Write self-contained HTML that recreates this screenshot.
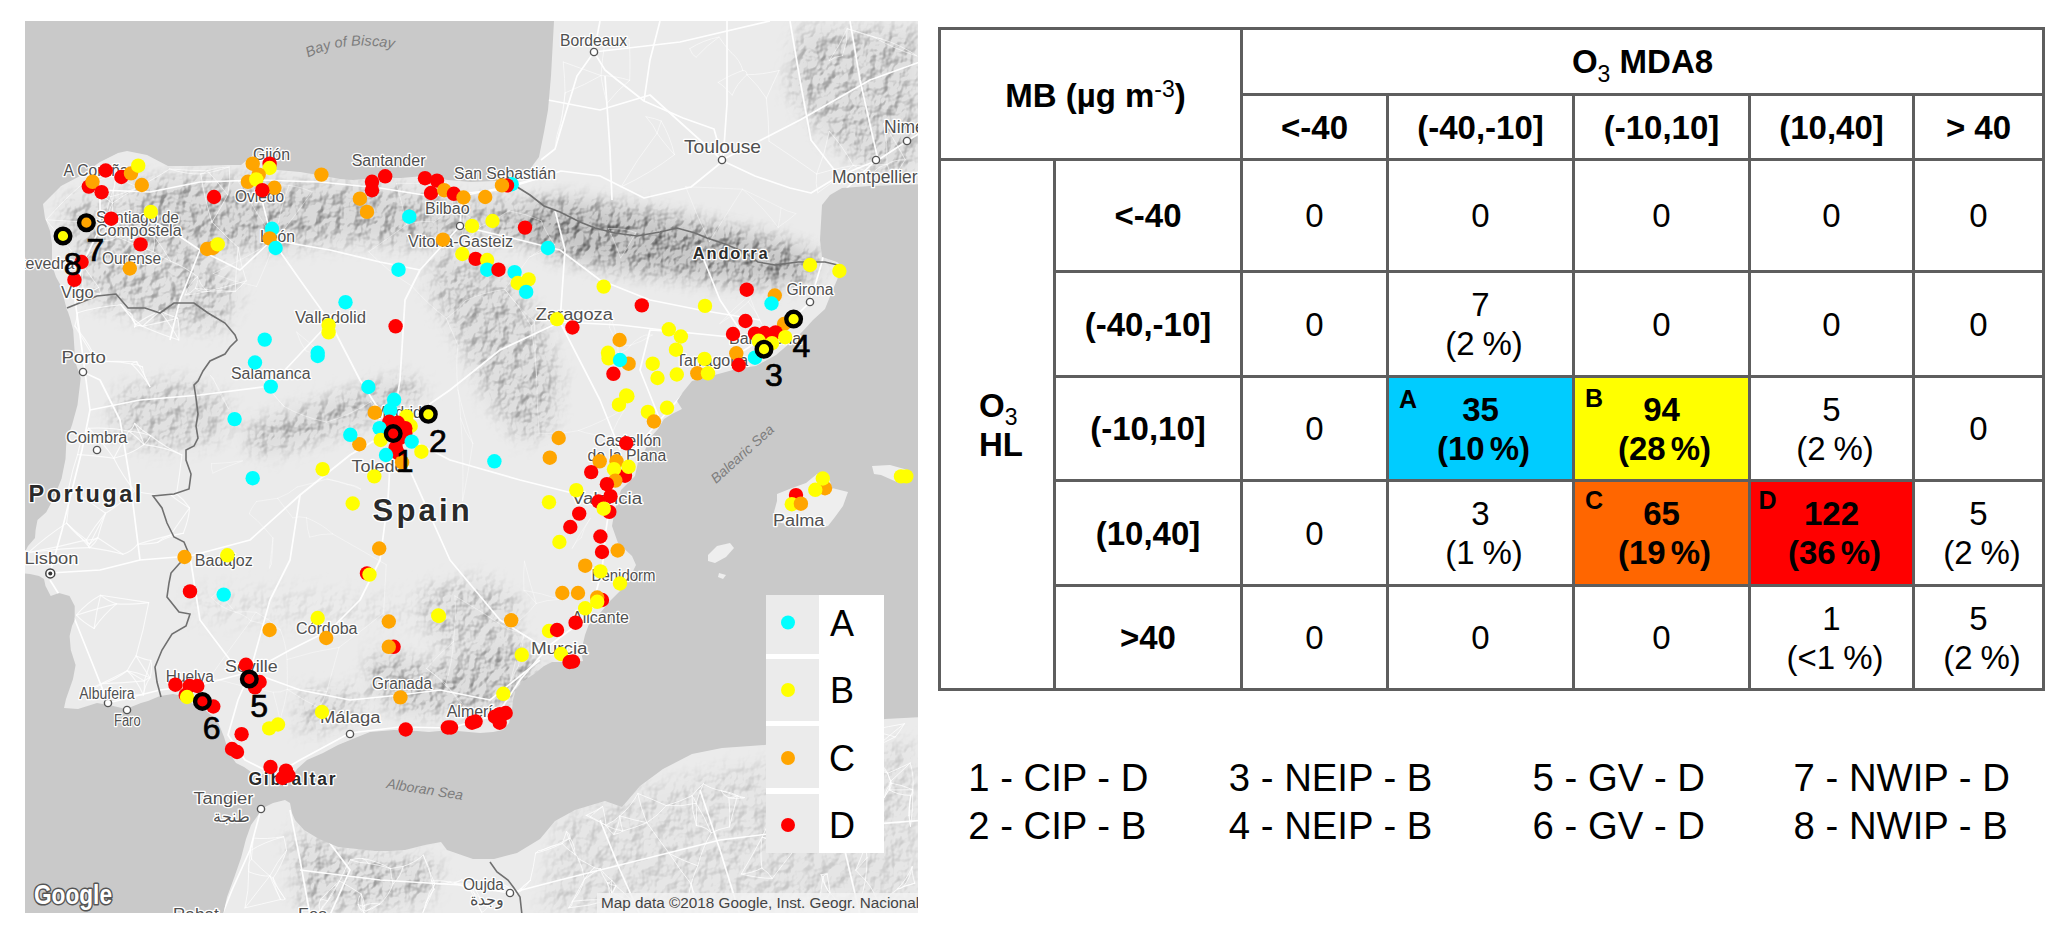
<!DOCTYPE html>
<html><head><meta charset="utf-8"><title>Figure</title>
<style>
html,body{margin:0;padding:0;background:#fff;}
body{width:2067px;height:934px;position:relative;overflow:hidden;font-family:"Liberation Sans",sans-serif;color:#000;}
.l{position:absolute;background:#5e5e5e;}
.c{position:absolute;display:flex;align-items:center;justify-content:center;text-align:center;font-size:33px;line-height:39px;}
.b{font-weight:bold;}
.c sup{font-size:23px;font-weight:normal;vertical-align:0;position:relative;top:-9.5px;line-height:0;}
.c sub{font-size:23px;font-weight:normal;vertical-align:0;position:relative;top:9px;line-height:0;}
.lt{position:absolute;font-weight:bold;font-size:25px;line-height:25px;}
.lg{position:absolute;font-size:38.3px;line-height:48px;white-space:pre;}
#map{position:absolute;left:25px;top:21px;width:893px;height:892px;overflow:hidden;}
</style></head><body>

<svg id="map" width="893" height="892" viewBox="25 21 893 892" font-family="Liberation Sans, sans-serif">
<defs>
<filter id="bl10" filterUnits="userSpaceOnUse" x="0" y="0" width="1000" height="1000"><feGaussianBlur stdDeviation="10"/></filter>
<filter id="bl4" filterUnits="userSpaceOnUse" x="0" y="0" width="1000" height="1000"><feGaussianBlur stdDeviation="4"/></filter>
<clipPath id="landclip"><path d="M555.0,15.0 L925.0,15.0 L925.0,184.0 L870.0,186.0 L842.0,188.0 L830.0,195.0 L822.0,205.0 L820.0,240.0 L822.0,257.0 L837.0,262.0 L842.0,266.0 L837.0,280.0 L831.0,294.0 L825.0,309.0 L813.0,320.0 L802.0,332.0 L790.0,343.0 L776.0,355.0 L756.0,366.0 L740.0,368.0 L722.0,373.0 L703.0,378.0 L692.0,381.0 L683.0,392.0 L677.0,401.0 L682.0,409.0 L672.0,414.0 L664.0,419.0 L658.0,429.0 L651.0,437.0 L645.0,450.0 L638.0,462.0 L635.0,476.0 L621.0,490.0 L615.0,509.0 L612.0,526.0 L618.0,543.0 L632.0,556.0 L636.0,565.0 L629.0,579.0 L621.0,590.0 L610.0,601.0 L601.0,612.0 L593.0,622.0 L589.0,624.0 L585.0,635.0 L581.0,652.0 L583.0,661.0 L577.0,662.0 L562.0,662.0 L552.0,662.0 L544.0,666.0 L534.0,674.0 L522.0,682.0 L516.0,689.0 L513.0,700.0 L512.0,710.0 L509.0,723.0 L503.0,730.0 L493.0,732.0 L480.0,733.0 L458.0,731.0 L450.0,730.0 L429.0,732.0 L417.0,731.0 L394.0,730.0 L370.0,732.0 L355.0,738.0 L338.0,745.0 L323.0,753.0 L307.0,760.0 L297.0,769.0 L290.0,781.0 L285.0,784.0 L273.0,774.0 L254.0,774.0 L244.0,767.0 L236.0,763.0 L229.0,753.0 L224.0,737.0 L218.0,722.0 L211.0,715.0 L204.0,709.0 L193.0,704.0 L183.0,696.0 L173.0,694.0 L160.0,696.0 L148.0,701.0 L141.0,703.0 L126.0,709.0 L109.0,705.0 L97.0,703.0 L78.0,709.0 L64.0,708.0 L66.0,699.0 L73.0,679.0 L75.6,665.0 L70.8,650.0 L69.6,636.0 L72.0,626.0 L74.7,620.0 L74.7,606.0 L69.5,596.0 L59.0,593.0 L50.7,596.0 L45.5,586.0 L44.0,579.0 L39.0,576.0 L30.0,574.0 L18.0,573.0 L18.0,550.0 L26.0,550.0 L28.0,546.0 L35.0,538.0 L35.6,530.0 L37.5,520.0 L46.2,512.3 L53.9,497.8 L61.6,478.5 L65.5,459.0 L66.4,440.0 L72.0,425.0 L77.5,405.0 L80.7,378.0 L75.3,362.0 L73.2,330.0 L70.0,318.0 L68.0,312.0 L67.0,310.0 L63.0,295.0 L61.0,286.0 L56.0,277.0 L52.0,265.0 L52.0,253.0 L52.0,244.0 L50.0,231.0 L45.0,218.0 L43.0,204.0 L52.0,195.0 L61.0,186.0 L80.0,176.0 L100.0,162.0 L118.0,153.0 L127.0,151.0 L147.0,155.0 L168.0,166.0 L194.0,166.0 L230.0,165.0 L241.0,165.0 L253.0,155.0 L262.0,160.0 L277.0,170.0 L300.0,172.0 L324.0,176.0 L340.0,179.0 L353.0,180.0 L377.0,178.0 L401.0,178.0 L424.0,176.0 L448.0,180.0 L471.0,182.0 L495.0,181.0 L518.0,180.0 L530.0,170.0 L533.0,165.0 L539.0,157.0 L544.0,132.0 L548.0,110.0 L551.0,76.0 L554.0,21.0 Z"/><path d="M222.0,920.0 L227.0,897.0 L234.0,878.0 L241.0,858.0 L246.0,839.0 L251.0,825.0 L256.0,818.0 L263.0,808.0 L273.0,803.0 L285.0,800.0 L290.0,803.0 L292.0,813.0 L295.0,820.0 L304.0,830.0 L319.0,839.0 L338.0,847.0 L357.0,849.0 L375.0,851.0 L390.0,851.0 L405.0,850.0 L425.0,845.0 L441.0,842.0 L447.0,850.0 L473.0,859.0 L494.0,859.0 L517.0,853.0 L540.0,839.0 L555.0,821.0 L575.0,810.0 L605.0,801.0 L622.0,807.0 L640.0,786.0 L663.0,769.0 L692.0,754.0 L722.0,748.0 L765.0,745.0 L800.0,735.0 L885.0,719.0 L925.0,717.0 L925.0,920.0 Z"/></clipPath>
</defs>
<rect x="25" y="21" width="893" height="892" fill="#c9c9c9"/>
<path d="M555.0,15.0 L925.0,15.0 L925.0,184.0 L870.0,186.0 L842.0,188.0 L830.0,195.0 L822.0,205.0 L820.0,240.0 L822.0,257.0 L837.0,262.0 L842.0,266.0 L837.0,280.0 L831.0,294.0 L825.0,309.0 L813.0,320.0 L802.0,332.0 L790.0,343.0 L776.0,355.0 L756.0,366.0 L740.0,368.0 L722.0,373.0 L703.0,378.0 L692.0,381.0 L683.0,392.0 L677.0,401.0 L682.0,409.0 L672.0,414.0 L664.0,419.0 L658.0,429.0 L651.0,437.0 L645.0,450.0 L638.0,462.0 L635.0,476.0 L621.0,490.0 L615.0,509.0 L612.0,526.0 L618.0,543.0 L632.0,556.0 L636.0,565.0 L629.0,579.0 L621.0,590.0 L610.0,601.0 L601.0,612.0 L593.0,622.0 L589.0,624.0 L585.0,635.0 L581.0,652.0 L583.0,661.0 L577.0,662.0 L562.0,662.0 L552.0,662.0 L544.0,666.0 L534.0,674.0 L522.0,682.0 L516.0,689.0 L513.0,700.0 L512.0,710.0 L509.0,723.0 L503.0,730.0 L493.0,732.0 L480.0,733.0 L458.0,731.0 L450.0,730.0 L429.0,732.0 L417.0,731.0 L394.0,730.0 L370.0,732.0 L355.0,738.0 L338.0,745.0 L323.0,753.0 L307.0,760.0 L297.0,769.0 L290.0,781.0 L285.0,784.0 L273.0,774.0 L254.0,774.0 L244.0,767.0 L236.0,763.0 L229.0,753.0 L224.0,737.0 L218.0,722.0 L211.0,715.0 L204.0,709.0 L193.0,704.0 L183.0,696.0 L173.0,694.0 L160.0,696.0 L148.0,701.0 L141.0,703.0 L126.0,709.0 L109.0,705.0 L97.0,703.0 L78.0,709.0 L64.0,708.0 L66.0,699.0 L73.0,679.0 L75.6,665.0 L70.8,650.0 L69.6,636.0 L72.0,626.0 L74.7,620.0 L74.7,606.0 L69.5,596.0 L59.0,593.0 L50.7,596.0 L45.5,586.0 L44.0,579.0 L39.0,576.0 L30.0,574.0 L18.0,573.0 L18.0,550.0 L26.0,550.0 L28.0,546.0 L35.0,538.0 L35.6,530.0 L37.5,520.0 L46.2,512.3 L53.9,497.8 L61.6,478.5 L65.5,459.0 L66.4,440.0 L72.0,425.0 L77.5,405.0 L80.7,378.0 L75.3,362.0 L73.2,330.0 L70.0,318.0 L68.0,312.0 L67.0,310.0 L63.0,295.0 L61.0,286.0 L56.0,277.0 L52.0,265.0 L52.0,253.0 L52.0,244.0 L50.0,231.0 L45.0,218.0 L43.0,204.0 L52.0,195.0 L61.0,186.0 L80.0,176.0 L100.0,162.0 L118.0,153.0 L127.0,151.0 L147.0,155.0 L168.0,166.0 L194.0,166.0 L230.0,165.0 L241.0,165.0 L253.0,155.0 L262.0,160.0 L277.0,170.0 L300.0,172.0 L324.0,176.0 L340.0,179.0 L353.0,180.0 L377.0,178.0 L401.0,178.0 L424.0,176.0 L448.0,180.0 L471.0,182.0 L495.0,181.0 L518.0,180.0 L530.0,170.0 L533.0,165.0 L539.0,157.0 L544.0,132.0 L548.0,110.0 L551.0,76.0 L554.0,21.0 Z" fill="#ebebeb"/>
<path d="M222.0,920.0 L227.0,897.0 L234.0,878.0 L241.0,858.0 L246.0,839.0 L251.0,825.0 L256.0,818.0 L263.0,808.0 L273.0,803.0 L285.0,800.0 L290.0,803.0 L292.0,813.0 L295.0,820.0 L304.0,830.0 L319.0,839.0 L338.0,847.0 L357.0,849.0 L375.0,851.0 L390.0,851.0 L405.0,850.0 L425.0,845.0 L441.0,842.0 L447.0,850.0 L473.0,859.0 L494.0,859.0 L517.0,853.0 L540.0,839.0 L555.0,821.0 L575.0,810.0 L605.0,801.0 L622.0,807.0 L640.0,786.0 L663.0,769.0 L692.0,754.0 L722.0,748.0 L765.0,745.0 L800.0,735.0 L885.0,719.0 L925.0,717.0 L925.0,920.0 Z" fill="#ebebeb"/>
<path d="M777.0,494.0 L792.0,488.0 L806.0,483.0 L817.0,474.0 L828.0,474.0 L832.0,488.0 L848.0,492.0 L843.0,506.0 L835.0,517.0 L828.0,526.0 L817.0,528.0 L799.0,526.0 L781.0,523.0 L774.0,512.0 L777.0,501.0 Z" fill="#eeeeee"/>
<path d="M872.0,466.0 L890.0,465.0 L908.0,470.0 L912.0,477.0 L899.0,483.0 L881.0,475.0 L874.0,474.0 Z" fill="#eeeeee"/>
<path d="M708.0,555.0 L717.0,546.0 L730.0,543.0 L734.0,548.0 L726.0,557.0 L715.0,563.0 L708.0,561.0 Z" fill="#eeeeee"/>
<path d="M719.0,573.0 L726.0,575.0 L723.0,579.0 L718.0,577.0 Z" fill="#eeeeee"/>
<defs>
<filter id="hill" filterUnits="userSpaceOnUse" x="25" y="21" width="893" height="892" color-interpolation-filters="sRGB">
<feTurbulence type="fractalNoise" baseFrequency="0.08 0.07" numOctaves="3" seed="11" result="t"/>
<feDiffuseLighting in="t" surfaceScale="5" diffuseConstant="1" lighting-color="#fff" result="l"><feDistantLight azimuth="225" elevation="40"/></feDiffuseLighting>
<feColorMatrix in="l" type="matrix" values="0 0 0 0 0  0 0 0 0 0  0 0 0 0 0  -0.9 0 0 0 0.66"/>
</filter>
<mask id="mtn" maskUnits="userSpaceOnUse" x="0" y="0" width="1000" height="1000"><g filter="url(#bl10)"><path d="M130.0,185.0 L200.0,178.0 L300.0,185.0 L400.0,190.0 L470.0,205.0 L470.0,235.0 L420.0,245.0 L350.0,240.0 L280.0,245.0 L220.0,250.0 L150.0,235.0 Z" fill="#fff" opacity="0.55"/><path d="M540.0,200.0 L600.0,205.0 L660.0,215.0 L720.0,228.0 L790.0,245.0 L825.0,262.0 L800.0,282.0 L740.0,282.0 L680.0,275.0 L620.0,268.0 L560.0,255.0 L520.0,235.0 Z" fill="#fff" opacity="0.80"/><path d="M470.0,200.0 L540.0,205.0 L540.0,240.0 L480.0,240.0 Z" fill="#fff" opacity="0.60"/><path d="M440.0,250.0 L500.0,275.0 L540.0,320.0 L560.0,380.0 L550.0,430.0 L520.0,440.0 L490.0,400.0 L460.0,340.0 L430.0,290.0 Z" fill="#fff" opacity="0.45"/><path d="M240.0,430.0 L300.0,410.0 L360.0,390.0 L410.0,378.0 L425.0,395.0 L380.0,415.0 L320.0,438.0 L260.0,455.0 Z" fill="#fff" opacity="0.50"/><path d="M370.0,655.0 L430.0,665.0 L480.0,650.0 L520.0,640.0 L540.0,660.0 L520.0,700.0 L470.0,712.0 L400.0,712.0 L370.0,690.0 Z" fill="#fff" opacity="0.55"/><path d="M420.0,590.0 L480.0,580.0 L520.0,600.0 L510.0,640.0 L470.0,650.0 L430.0,640.0 Z" fill="#fff" opacity="0.40"/><path d="M300.0,690.0 L360.0,690.0 L360.0,720.0 L300.0,735.0 Z" fill="#fff" opacity="0.35"/><path d="M60.0,200.0 L130.0,200.0 L200.0,250.0 L240.0,290.0 L220.0,330.0 L150.0,320.0 L90.0,300.0 Z" fill="#fff" opacity="0.45"/><path d="M290.0,830.0 L340.0,850.0 L400.0,858.0 L440.0,860.0 L430.0,900.0 L360.0,910.0 L300.0,905.0 Z" fill="#fff" opacity="0.45"/><path d="M560.0,820.0 L640.0,790.0 L720.0,770.0 L800.0,760.0 L918.0,740.0 L918.0,912.0 L540.0,912.0 Z" fill="#fff" opacity="0.20"/><path d="M800.0,30.0 L918.0,30.0 L918.0,170.0 L880.0,175.0 L830.0,140.0 L790.0,90.0 Z" fill="#fff" opacity="0.45"/><path d="M120.0,390.0 L180.0,380.0 L230.0,400.0 L220.0,440.0 L150.0,450.0 L110.0,430.0 Z" fill="#fff" opacity="0.35"/><path d="M190.0,590.0 L300.0,590.0 L420.0,600.0 L420.0,625.0 L300.0,625.0 L190.0,620.0 Z" fill="#fff" opacity="0.12"/></g></mask>
</defs>
<g clip-path="url(#landclip)">
<path d="M130.0,185.0 L200.0,178.0 L300.0,185.0 L400.0,190.0 L470.0,205.0 L470.0,235.0 L420.0,245.0 L350.0,240.0 L280.0,245.0 L220.0,250.0 L150.0,235.0 Z" fill="#000" opacity="0.07" filter="url(#bl10)"/>
<path d="M540.0,200.0 L600.0,205.0 L660.0,215.0 L720.0,228.0 L790.0,245.0 L825.0,262.0 L800.0,282.0 L740.0,282.0 L680.0,275.0 L620.0,268.0 L560.0,255.0 L520.0,235.0 Z" fill="#000" opacity="0.15" filter="url(#bl10)"/>
<path d="M470.0,200.0 L540.0,205.0 L540.0,240.0 L480.0,240.0 Z" fill="#000" opacity="0.08" filter="url(#bl10)"/>
<path d="M440.0,250.0 L500.0,275.0 L540.0,320.0 L560.0,380.0 L550.0,430.0 L520.0,440.0 L490.0,400.0 L460.0,340.0 L430.0,290.0 Z" fill="#000" opacity="0.05" filter="url(#bl10)"/>
<path d="M240.0,430.0 L300.0,410.0 L360.0,390.0 L410.0,378.0 L425.0,395.0 L380.0,415.0 L320.0,438.0 L260.0,455.0 Z" fill="#000" opacity="0.06" filter="url(#bl10)"/>
<path d="M370.0,655.0 L430.0,665.0 L480.0,650.0 L520.0,640.0 L540.0,660.0 L520.0,700.0 L470.0,712.0 L400.0,712.0 L370.0,690.0 Z" fill="#000" opacity="0.06" filter="url(#bl10)"/>
<path d="M420.0,590.0 L480.0,580.0 L520.0,600.0 L510.0,640.0 L470.0,650.0 L430.0,640.0 Z" fill="#000" opacity="0.03" filter="url(#bl10)"/>
<path d="M300.0,690.0 L360.0,690.0 L360.0,720.0 L300.0,735.0 Z" fill="#000" opacity="0.03" filter="url(#bl10)"/>
<path d="M60.0,200.0 L130.0,200.0 L200.0,250.0 L240.0,290.0 L220.0,330.0 L150.0,320.0 L90.0,300.0 Z" fill="#000" opacity="0.04" filter="url(#bl10)"/>
<path d="M290.0,830.0 L340.0,850.0 L400.0,858.0 L440.0,860.0 L430.0,900.0 L360.0,910.0 L300.0,905.0 Z" fill="#000" opacity="0.04" filter="url(#bl10)"/>
<path d="M560.0,820.0 L640.0,790.0 L720.0,770.0 L800.0,760.0 L918.0,740.0 L918.0,912.0 L540.0,912.0 Z" fill="#000" opacity="0.02" filter="url(#bl10)"/>
<path d="M800.0,30.0 L918.0,30.0 L918.0,170.0 L880.0,175.0 L830.0,140.0 L790.0,90.0 Z" fill="#000" opacity="0.05" filter="url(#bl10)"/>
<path d="M120.0,390.0 L180.0,380.0 L230.0,400.0 L220.0,440.0 L150.0,450.0 L110.0,430.0 Z" fill="#000" opacity="0.04" filter="url(#bl10)"/>
<path d="M190.0,590.0 L300.0,590.0 L420.0,600.0 L420.0,625.0 L300.0,625.0 L190.0,620.0 Z" fill="#000" opacity="0.0" filter="url(#bl10)"/>
<rect x="25" y="21" width="893" height="892" fill="#000" filter="url(#hill)" mask="url(#mtn)"/>
<g fill="none" stroke="#fff" stroke-width="1.7" stroke-linejoin="round" opacity="0.95">
<path d="M50.0,573.0 L62.0,530.0 L72.0,490.0 L82.0,450.0 L90.0,410.0 L85.0,372.0 L80.0,335.0 L75.0,300.0 L82.0,265.0 L100.0,228.0 L100.0,190.0"/>
<path d="M100.0,228.0 L140.0,215.0 L170.0,230.0 L200.0,250.0 L240.0,270.0 L272.0,240.0"/>
<path d="M50.0,573.0 L100.0,570.0 L140.0,560.0 L190.0,556.0 L250.0,540.0 L300.0,495.0 L350.0,455.0 L392.0,430.0"/>
<path d="M50.0,580.0 L75.0,620.0 L95.0,670.0 L108.0,703.0"/>
<path d="M108.0,703.0 L160.0,690.0 L200.0,685.0 L250.0,672.0"/>
<path d="M392.0,430.0 L388.0,500.0 L380.0,560.0 L360.0,600.0 L330.0,630.0 L290.0,650.0 L250.0,672.0"/>
<path d="M250.0,672.0 L238.0,700.0 L228.0,735.0 L245.0,760.0 L275.0,775.0"/>
<path d="M250.0,672.0 L300.0,690.0 L350.0,700.0 L400.0,695.0 L440.0,690.0 L490.0,700.0 L540.0,660.0"/>
<path d="M392.0,430.0 L450.0,460.0 L520.0,480.0 L600.0,500.0"/>
<path d="M392.0,430.0 L450.0,390.0 L500.0,350.0 L560.0,322.0 L620.0,325.0 L680.0,332.0 L760.0,340.0"/>
<path d="M392.0,430.0 L400.0,380.0 L405.0,300.0 L420.0,270.0 L460.0,226.0 L462.0,196.0 L500.0,188.0 L540.0,178.0"/>
<path d="M392.0,430.0 L360.0,380.0 L330.0,322.0 L300.0,280.0 L272.0,240.0 L262.0,200.0 L260.0,175.0"/>
<path d="M810.0,302.0 L790.0,322.0 L760.0,340.0 L720.0,366.0 L690.0,386.0 L660.0,420.0 L632.0,452.0 L612.0,490.0 L606.0,530.0 L602.0,570.0 L590.0,615.0 L550.0,645.0 L520.0,680.0 L497.0,715.0 L450.0,728.0 L400.0,727.0 L350.0,733.0 L300.0,760.0 L275.0,775.0"/>
<path d="M100.0,190.0 L150.0,192.0 L200.0,182.0 L260.0,180.0 L320.0,182.0 L380.0,188.0 L430.0,196.0 L500.0,190.0 L540.0,178.0"/>
<path d="M594.0,52.0 L605.0,70.0 L616.0,79.0 L644.0,101.0 L683.0,118.0 L714.0,129.0 L723.0,161.0"/>
<path d="M723.0,161.0 L755.0,176.0 L790.0,188.0 L811.0,193.0 L839.0,176.0 L878.0,160.0 L907.0,141.0 L925.0,130.0"/>
<path d="M594.0,52.0 L577.0,76.0 L566.0,112.0 L555.0,149.0 L541.0,160.0"/>
<path d="M723.0,161.0 L691.0,187.0 L644.0,198.0 L600.0,176.0 L561.0,171.0 L540.0,178.0"/>
<path d="M723.0,161.0 L727.0,104.0 L727.0,21.0"/>
<path d="M605.0,76.0 L610.0,150.0 L612.0,200.0"/>
<path d="M660.0,21.0 L650.0,60.0 L644.0,101.0"/>
<path d="M790.0,21.0 L800.0,80.0 L811.0,140.0 L839.0,176.0"/>
<path d="M850.0,21.0 L860.0,80.0 L878.0,160.0"/>
<path d="M876.0,160.0 L845.0,190.0 L828.0,230.0 L822.0,262.0 L810.0,302.0"/>
<path d="M594.0,52.0 L600.0,21.0"/>
<path d="M594.0,52.0 L680.0,42.0 L770.0,21.0"/>
<path d="M722.0,160.0 L800.0,120.0 L870.0,80.0 L925.0,60.0"/>
<path d="M548.0,100.0 L600.0,110.0 L650.0,95.0 L722.0,160.0"/>
<path d="M261.0,809.0 L250.0,850.0 L232.0,890.0 L222.0,915.0"/>
<path d="M290.0,810.0 L300.0,860.0 L310.0,915.0"/>
<path d="M300.0,870.0 L380.0,880.0 L460.0,885.0 L510.0,893.0 L560.0,880.0 L640.0,860.0 L720.0,840.0 L800.0,830.0 L925.0,820.0"/>
<path d="M320.0,830.0 L350.0,870.0 L330.0,915.0"/>
<path d="M600.0,820.0 L620.0,870.0 L640.0,915.0"/>
<path d="M700.0,790.0 L720.0,850.0 L740.0,915.0"/>
<path d="M820.0,760.0 L840.0,830.0 L860.0,915.0"/>
<path d="M560.0,322.0 L565.0,250.0 L555.0,210.0"/>
<path d="M560.0,322.0 L600.0,400.0 L620.0,450.0"/>
<path d="M392.0,430.0 L450.0,560.0 L500.0,620.0 L540.0,645.0"/>
<path d="M300.0,495.0 L290.0,560.0 L270.0,600.0 L250.0,672.0"/>
<path d="M190.0,556.0 L200.0,620.0 L230.0,660.0"/>
<path d="M140.0,560.0 L130.0,480.0 L120.0,420.0 L100.0,380.0 L83.0,372.0"/>
<path d="M90.0,410.0 L140.0,400.0 L200.0,395.0 L270.0,386.0 L330.0,322.0"/>
<path d="M200.0,250.0 L180.0,300.0 L170.0,340.0"/>
<path d="M272.0,240.0 L330.0,250.0 L380.0,262.0 L420.0,270.0"/>
<path d="M660.0,420.0 L640.0,370.0 L650.0,330.0 L680.0,332.0"/>
<path d="M700.0,250.0 L720.0,300.0 L740.0,330.0"/>
<path d="M460.0,226.0 L520.0,240.0 L560.0,250.0 L600.0,280.0 L650.0,300.0 L700.0,310.0 L760.0,320.0"/>
</g>
<g fill="none" stroke="#fff" stroke-linecap="round">
<path d="M912.2,866.7 Q906.9,879.3 897.5,889.0" stroke-width="1.0" opacity="0.75"/>
<path d="M865.4,880.2 Q867.3,867.1 867.0,857.7" stroke-width="1.0" opacity="0.75"/>
<path d="M535.6,853.1 Q538.3,849.5 541.8,850.1" stroke-width="1.0" opacity="0.75"/>
<path d="M812.2,754.3 Q811.6,754.7 808.5,753.2" stroke-width="1.0" opacity="0.75"/>
<path d="M788.8,796.9 Q785.6,800.0 785.4,808.4" stroke-width="1.0" opacity="0.75"/>
<path d="M912.7,789.7 Q914.4,794.4 910.6,795.4" stroke-width="1.0" opacity="0.75"/>
<path d="M914.7,883.2 Q909.4,885.1 903.6,886.5" stroke-width="1.0" opacity="0.75"/>
<path d="M910.5,826.3 Q913.7,807.7 912.7,789.7" stroke-width="1.0" opacity="0.75"/>
<path d="M887.6,773.2 Q888.9,777.2 891.4,783.2" stroke-width="1.0" opacity="0.75"/>
<path d="M827.2,788.2 Q822.3,781.5 820.3,780.5" stroke-width="1.0" opacity="0.75"/>
<path d="M793.2,851.5 Q802.5,839.2 810.1,827.8" stroke-width="1.0" opacity="0.75"/>
<path d="M697.8,865.8 Q694.8,872.2 691.0,883.7" stroke-width="1.0" opacity="0.75"/>
<path d="M808.5,753.2 Q822.4,758.5 838.1,768.1" stroke-width="1.0" opacity="0.75"/>
<path d="M761.9,868.0 Q759.8,851.1 762.1,837.1" stroke-width="1.0" opacity="0.75"/>
<path d="M904.5,723.7 Q889.4,726.3 870.4,730.2" stroke-width="1.0" opacity="0.75"/>
<path d="M622.7,831.0 Q620.7,824.2 619.8,815.9" stroke-width="1.0" opacity="0.75"/>
<path d="M502.8,884.5 Q507.8,886.3 516.1,894.0" stroke-width="1.0" opacity="0.75"/>
<path d="M855.4,749.5 Q863.0,757.0 870.3,764.5" stroke-width="1.0" opacity="0.75"/>
<path d="M530.2,880.5 Q533.8,866.4 535.6,853.1" stroke-width="1.0" opacity="0.75"/>
<path d="M785.0,843.7 Q782.8,843.7 778.3,841.0" stroke-width="1.0" opacity="0.75"/>
<path d="M590.6,816.7 Q595.1,811.6 602.6,806.5" stroke-width="1.0" opacity="0.75"/>
<path d="M912.7,789.7 Q901.9,784.8 891.4,783.2" stroke-width="1.0" opacity="0.75"/>
<path d="M855.4,749.5 Q862.4,740.2 870.4,730.2" stroke-width="1.0" opacity="0.75"/>
<path d="M887.6,773.2 Q881.4,771.4 870.3,764.5" stroke-width="1.0" opacity="0.75"/>
<path d="M530.2,880.5 Q524.5,885.4 521.6,888.5" stroke-width="1.0" opacity="0.75"/>
<path d="M841.9,842.8 Q850.9,842.0 865.3,846.4" stroke-width="1.0" opacity="0.75"/>
<path d="M605.9,825.2 Q610.0,832.0 613.9,834.4" stroke-width="1.0" opacity="0.75"/>
<path d="M728.9,797.8 Q734.6,799.3 744.4,797.6" stroke-width="1.0" opacity="0.75"/>
<path d="M721.5,790.8 Q731.7,792.2 737.3,795.8" stroke-width="1.0" opacity="0.75"/>
<path d="M846.8,778.4 Q843.6,775.4 838.1,768.1" stroke-width="1.0" opacity="0.75"/>
<path d="M890.7,781.2 Q889.4,786.8 889.5,789.9" stroke-width="1.0" opacity="0.75"/>
<path d="M728.9,797.8 Q730.5,812.9 729.4,826.9" stroke-width="1.0" opacity="0.75"/>
<path d="M692.0,795.7 Q696.2,801.9 696.1,803.3" stroke-width="1.0" opacity="0.75"/>
<path d="M666.2,805.6 Q659.3,814.6 646.9,822.7" stroke-width="1.0" opacity="0.75"/>
<path d="M637.9,793.5 Q640.4,806.6 646.9,822.7" stroke-width="1.0" opacity="0.75"/>
<path d="M594.2,867.6 Q595.5,868.6 600.3,868.7" stroke-width="1.0" opacity="0.75"/>
<path d="M855.7,870.1 Q862.1,855.5 865.3,846.4" stroke-width="1.0" opacity="0.75"/>
<path d="M878.1,745.4 Q875.4,739.1 870.4,730.2" stroke-width="1.0" opacity="0.75"/>
<path d="M584.4,879.3 Q591.4,874.1 600.3,868.7" stroke-width="1.0" opacity="0.75"/>
<path d="M703.4,783.8 Q710.4,788.6 721.5,790.8" stroke-width="1.0" opacity="0.75"/>
<path d="M910.5,826.3 Q907.8,813.8 910.6,795.4" stroke-width="1.0" opacity="0.75"/>
<path d="M613.9,834.4 Q620.2,833.5 622.7,831.0" stroke-width="1.0" opacity="0.75"/>
<path d="M821.1,874.8 Q824.2,886.5 830.1,893.2" stroke-width="1.0" opacity="0.75"/>
<path d="M609.0,900.1 Q613.1,894.0 611.6,892.4" stroke-width="1.0" opacity="0.75"/>
<path d="M695.0,909.2 Q694.6,898.5 691.0,883.7" stroke-width="1.0" opacity="0.75"/>
<path d="M605.9,825.2 Q613.8,821.7 619.8,815.9" stroke-width="1.0" opacity="0.75"/>
<path d="M666.2,805.6 Q680.8,807.0 696.1,803.3" stroke-width="1.0" opacity="0.75"/>
<path d="M890.7,781.2 Q890.4,788.6 884.4,797.5" stroke-width="1.0" opacity="0.75"/>
<path d="M495.1,885.3 Q508.8,888.1 518.7,891.7" stroke-width="1.0" opacity="0.75"/>
<path d="M912.7,789.7 Q908.8,801.6 909.0,815.6" stroke-width="1.0" opacity="0.75"/>
<path d="M827.2,788.2 Q813.0,790.9 803.2,788.6" stroke-width="1.0" opacity="0.75"/>
<path d="M696.4,825.5 Q706.6,826.8 711.2,832.8" stroke-width="1.0" opacity="0.75"/>
<path d="M821.1,874.8 Q824.7,873.8 827.1,873.9" stroke-width="1.0" opacity="0.75"/>
<path d="M697.8,865.8 Q702.2,848.1 711.2,832.8" stroke-width="1.0" opacity="0.75"/>
<path d="M703.4,783.8 Q698.2,795.0 696.1,803.3" stroke-width="1.0" opacity="0.75"/>
<path d="M605.9,825.2 Q595.3,819.1 590.6,816.7" stroke-width="1.0" opacity="0.75"/>
<path d="M521.6,888.5 Q518.5,888.4 516.1,894.0" stroke-width="1.0" opacity="0.75"/>
<path d="M865.4,880.2 Q862.8,894.5 858.8,907.4" stroke-width="1.0" opacity="0.75"/>
<path d="M572.5,901.3 Q592.8,898.9 609.0,900.1" stroke-width="1.0" opacity="0.75"/>
<path d="M570.0,838.1 Q564.8,841.1 562.2,843.6" stroke-width="1.0" opacity="0.75"/>
<path d="M611.9,880.4 Q610.4,886.9 611.6,892.4" stroke-width="1.0" opacity="0.75"/>
<path d="M815.2,814.9 Q811.1,822.5 810.1,827.8" stroke-width="1.0" opacity="0.75"/>
<path d="M700.2,902.9 Q695.4,908.2 687.1,909.9" stroke-width="1.0" opacity="0.75"/>
<path d="M855.4,749.5 Q869.6,747.7 878.1,745.4" stroke-width="1.0" opacity="0.75"/>
<path d="M812.2,754.3 Q816.2,769.6 820.3,780.5" stroke-width="1.0" opacity="0.75"/>
<path d="M615.8,885.7 Q615.4,883.5 611.9,880.4" stroke-width="1.0" opacity="0.75"/>
<path d="M827.2,788.2 Q826.6,797.8 827.4,810.0" stroke-width="1.0" opacity="0.75"/>
<path d="M823.1,876.5 Q824.3,886.7 830.1,893.2" stroke-width="1.0" opacity="0.75"/>
<path d="M887.6,773.2 Q896.6,769.6 910.2,763.0" stroke-width="1.0" opacity="0.75"/>
<path d="M845.2,818.5 Q852.2,826.4 858.6,828.6" stroke-width="1.0" opacity="0.75"/>
<path d="M572.5,901.3 Q572.2,907.4 568.8,907.8" stroke-width="1.0" opacity="0.75"/>
<path d="M611.9,880.4 Q603.9,874.6 600.3,868.7" stroke-width="1.0" opacity="0.75"/>
<path d="M737.3,795.8 Q733.8,810.2 729.4,826.9" stroke-width="1.0" opacity="0.75"/>
<path d="M914.7,883.2 Q906.1,885.2 897.5,889.0" stroke-width="1.0" opacity="0.75"/>
<path d="M841.9,842.8 Q850.4,832.7 858.6,828.6" stroke-width="1.0" opacity="0.75"/>
<path d="M890.7,781.2 Q888.8,776.9 887.6,773.2" stroke-width="1.0" opacity="0.75"/>
<path d="M495.1,885.3 Q504.4,889.0 516.1,894.0" stroke-width="1.0" opacity="0.75"/>
<path d="M646.9,822.7 Q635.0,820.4 619.8,815.9" stroke-width="1.0" opacity="0.75"/>
<path d="M607.3,882.9 Q611.5,885.1 615.8,885.7" stroke-width="1.0" opacity="0.75"/>
<path d="M803.2,788.6 Q793.6,796.7 785.4,808.4" stroke-width="1.0" opacity="0.75"/>
<path d="M837.1,904.9 Q845.0,904.8 858.8,907.4" stroke-width="1.0" opacity="0.75"/>
<path d="M568.8,907.8 Q589.5,906.2 609.0,900.1" stroke-width="1.0" opacity="0.75"/>
<path d="M615.8,885.7 Q615.7,889.1 611.6,892.4" stroke-width="1.0" opacity="0.75"/>
<path d="M912.7,789.7 Q914.4,776.1 910.2,763.0" stroke-width="1.0" opacity="0.75"/>
<path d="M827.2,788.2 Q834.7,777.6 838.1,768.1" stroke-width="1.0" opacity="0.75"/>
<path d="M605.9,825.2 Q605.7,818.7 602.6,806.5" stroke-width="1.0" opacity="0.75"/>
<path d="M773.8,816.0 Q766.8,824.6 762.1,837.1" stroke-width="1.0" opacity="0.75"/>
<path d="M889.5,789.9 Q901.8,790.0 912.7,789.7" stroke-width="1.0" opacity="0.75"/>
<path d="M695.0,909.2 Q696.7,903.1 700.2,902.9" stroke-width="1.0" opacity="0.75"/>
<path d="M910.5,826.3 Q909.1,820.5 909.0,815.6" stroke-width="1.0" opacity="0.75"/>
<path d="M773.8,816.0 Q779.0,814.4 785.4,808.4" stroke-width="1.0" opacity="0.75"/>
<path d="M827.1,873.9 Q829.1,885.0 830.1,893.2" stroke-width="1.0" opacity="0.75"/>
<path d="M903.6,886.5 Q910.3,878.1 912.2,866.7" stroke-width="1.0" opacity="0.75"/>
<path d="M575.1,854.5 Q570.7,844.5 566.4,831.6" stroke-width="1.0" opacity="0.75"/>
<path d="M817.7,909.8 Q824.8,902.4 830.1,893.2" stroke-width="1.0" opacity="0.75"/>
<path d="M844.4,792.2 Q839.2,800.8 832.5,810.5" stroke-width="1.0" opacity="0.75"/>
<path d="M602.6,806.5 Q595.1,811.7 586.1,815.4" stroke-width="1.0" opacity="0.75"/>
<path d="M607.3,882.9 Q610.8,893.2 609.0,900.1" stroke-width="1.0" opacity="0.75"/>
<path d="M793.2,851.5 Q791.2,849.2 785.0,843.7" stroke-width="1.0" opacity="0.75"/>
<path d="M594.2,867.6 Q588.1,863.7 578.2,858.5" stroke-width="1.0" opacity="0.75"/>
<path d="M541.8,850.1 Q551.1,845.4 562.2,843.6" stroke-width="1.0" opacity="0.75"/>
<path d="M669.5,853.7 Q659.5,840.4 646.9,822.7" stroke-width="1.0" opacity="0.75"/>
<path d="M858.8,907.4 Q869.2,904.9 879.2,906.6" stroke-width="1.0" opacity="0.75"/>
<path d="M584.4,879.3 Q583.3,868.8 578.2,858.5" stroke-width="1.0" opacity="0.75"/>
<path d="M845.2,818.5 Q836.1,811.6 827.4,810.0" stroke-width="1.0" opacity="0.75"/>
<path d="M832.5,810.5 Q821.4,820.6 810.1,827.8" stroke-width="1.0" opacity="0.75"/>
<path d="M788.8,796.9 Q780.8,805.6 773.8,816.0" stroke-width="1.0" opacity="0.75"/>
<path d="M823.1,876.5 Q821.3,890.2 817.7,909.8" stroke-width="1.0" opacity="0.75"/>
<path d="M788.8,796.9 Q796.1,795.4 803.2,788.6" stroke-width="1.0" opacity="0.75"/>
<path d="M844.4,792.2 Q846.8,784.7 846.8,778.4" stroke-width="1.0" opacity="0.75"/>
<path d="M878.1,745.4 Q881.1,754.6 881.9,762.5" stroke-width="1.0" opacity="0.75"/>
<path d="M897.5,889.0 Q886.6,896.0 879.2,906.6" stroke-width="1.0" opacity="0.75"/>
<path d="M815.2,814.9 Q823.6,811.1 827.4,810.0" stroke-width="1.0" opacity="0.75"/>
<path d="M890.7,781.2 Q888.5,784.2 891.4,783.2" stroke-width="1.0" opacity="0.75"/>
<path d="M639.5,906.7 Q625.7,898.7 611.6,892.4" stroke-width="1.0" opacity="0.75"/>
<path d="M692.0,795.7 Q679.1,802.1 666.2,805.6" stroke-width="1.0" opacity="0.75"/>
<path d="M827.4,810.0 Q816.8,819.9 810.1,827.8" stroke-width="1.0" opacity="0.75"/>
<path d="M821.1,874.8 Q823.4,877.5 823.1,876.5" stroke-width="1.0" opacity="0.75"/>
<path d="M721.5,790.8 Q731.6,794.8 744.4,797.6" stroke-width="1.0" opacity="0.75"/>
<path d="M877.3,762.6 Q878.0,762.9 881.9,762.5" stroke-width="1.0" opacity="0.75"/>
<path d="M687.1,909.9 Q687.1,898.6 691.0,883.7" stroke-width="1.0" opacity="0.75"/>
<path d="M844.4,792.2 Q838.0,789.2 827.2,788.2" stroke-width="1.0" opacity="0.75"/>
<path d="M700.2,902.9 Q693.9,896.1 691.0,883.7" stroke-width="1.0" opacity="0.75"/>
<path d="M741.3,874.0 Q758.0,878.3 772.2,878.4" stroke-width="1.0" opacity="0.75"/>
<path d="M889.5,789.9 Q897.2,795.1 910.6,795.4" stroke-width="1.0" opacity="0.75"/>
<path d="M562.2,843.6 Q565.0,836.5 566.4,831.6" stroke-width="1.0" opacity="0.75"/>
<path d="M904.5,723.7 Q899.5,731.9 895.3,736.9" stroke-width="1.0" opacity="0.75"/>
<path d="M518.7,891.7 Q519.1,891.0 516.1,894.0" stroke-width="1.0" opacity="0.75"/>
<path d="M590.6,816.7 Q589.1,814.0 586.1,815.4" stroke-width="1.0" opacity="0.75"/>
<path d="M837.1,904.9 Q836.5,898.7 830.1,893.2" stroke-width="1.0" opacity="0.75"/>
<path d="M637.9,793.5 Q631.3,806.1 619.8,815.9" stroke-width="1.0" opacity="0.75"/>
<path d="M808.5,753.2 Q815.0,765.4 820.3,780.5" stroke-width="1.0" opacity="0.75"/>
<path d="M820.3,780.5 Q829.3,772.1 838.1,768.1" stroke-width="1.0" opacity="0.75"/>
<path d="M889.5,789.9 Q884.8,795.0 884.4,797.5" stroke-width="1.0" opacity="0.75"/>
<path d="M605.9,825.2 Q613.5,829.6 622.7,831.0" stroke-width="1.0" opacity="0.75"/>
<path d="M803.2,788.6 Q810.2,785.9 820.3,780.5" stroke-width="1.0" opacity="0.75"/>
<path d="M812.2,754.3 Q826.4,760.1 838.1,768.1" stroke-width="1.0" opacity="0.75"/>
<path d="M895.3,736.9 Q880.5,732.9 870.4,730.2" stroke-width="1.0" opacity="0.75"/>
<path d="M867.0,857.7 Q866.1,849.6 865.3,846.4" stroke-width="1.0" opacity="0.75"/>
<path d="M914.7,883.2 Q911.5,872.3 912.2,866.7" stroke-width="1.0" opacity="0.75"/>
<path d="M607.3,882.9 Q610.2,884.0 611.9,880.4" stroke-width="1.0" opacity="0.75"/>
<path d="M884.4,797.5 Q886.2,787.5 891.4,783.2" stroke-width="1.0" opacity="0.75"/>
<path d="M669.5,853.7 Q684.9,861.6 697.8,865.8" stroke-width="1.0" opacity="0.75"/>
<path d="M666.2,805.6 Q654.8,800.2 637.9,793.5" stroke-width="1.0" opacity="0.75"/>
<path d="M728.9,797.8 Q732.1,798.8 737.3,795.8" stroke-width="1.0" opacity="0.75"/>
<path d="M728.9,797.8 Q722.9,795.4 721.5,790.8" stroke-width="1.0" opacity="0.75"/>
<path d="M495.1,885.3 Q496.5,884.3 502.8,884.5" stroke-width="1.0" opacity="0.75"/>
<path d="M832.5,810.5 Q829.9,809.5 827.4,810.0" stroke-width="1.0" opacity="0.75"/>
<path d="M887.6,773.2 Q882.8,766.3 881.9,762.5" stroke-width="1.0" opacity="0.75"/>
<path d="M865.3,846.4 Q863.9,837.3 858.6,828.6" stroke-width="1.0" opacity="0.75"/>
<path d="M692.0,795.7 Q698.1,788.0 703.4,783.8" stroke-width="1.0" opacity="0.75"/>
<path d="M867.0,857.7 Q862.7,862.9 855.7,870.1" stroke-width="1.0" opacity="0.75"/>
<path d="M669.5,853.7 Q680.8,871.2 691.0,883.7" stroke-width="1.0" opacity="0.75"/>
<path d="M878.1,745.4 Q880.7,751.3 877.3,762.6" stroke-width="1.0" opacity="0.75"/>
<path d="M613.9,834.4 Q618.6,827.3 619.8,815.9" stroke-width="1.0" opacity="0.75"/>
<path d="M584.4,879.3 Q588.2,872.8 594.2,867.6" stroke-width="1.0" opacity="0.75"/>
<path d="M530.2,880.5 Q524.9,888.6 518.7,891.7" stroke-width="1.0" opacity="0.75"/>
<path d="M741.3,874.0 Q751.1,857.8 762.1,837.1" stroke-width="1.0" opacity="0.75"/>
<path d="M570.0,838.1 Q569.8,832.8 566.4,831.6" stroke-width="1.0" opacity="0.75"/>
<path d="M865.4,880.2 Q874.8,890.5 879.2,906.6" stroke-width="1.0" opacity="0.75"/>
<path d="M878.1,745.4 Q884.6,742.1 895.3,736.9" stroke-width="1.0" opacity="0.75"/>
<path d="M711.2,832.8 Q717.7,829.1 729.4,826.9" stroke-width="1.0" opacity="0.75"/>
<path d="M562.2,843.6 Q566.4,848.8 575.1,854.5" stroke-width="1.0" opacity="0.75"/>
<path d="M572.5,901.3 Q580.5,892.8 584.4,879.3" stroke-width="1.0" opacity="0.75"/>
<path d="M827.2,788.2 Q834.2,780.7 846.8,778.4" stroke-width="1.0" opacity="0.75"/>
<path d="M793.2,851.5 Q784.7,862.2 772.2,878.4" stroke-width="1.0" opacity="0.75"/>
<path d="M607.3,882.9 Q608.1,885.3 611.6,892.4" stroke-width="1.0" opacity="0.75"/>
<path d="M837.1,904.9 Q825.0,904.5 817.7,909.8" stroke-width="1.0" opacity="0.75"/>
<path d="M541.8,850.1 Q556.7,845.6 570.0,838.1" stroke-width="1.0" opacity="0.75"/>
<path d="M761.9,868.0 Q752.7,873.1 741.3,874.0" stroke-width="1.0" opacity="0.75"/>
<path d="M609.0,900.1 Q613.4,892.2 615.8,885.7" stroke-width="1.0" opacity="0.75"/>
<path d="M858.6,828.6 Q864.6,827.3 869.1,820.2" stroke-width="1.0" opacity="0.75"/>
<path d="M827.1,873.9 Q825.9,873.6 823.1,876.5" stroke-width="1.0" opacity="0.75"/>
<path d="M890.7,781.2 Q897.8,774.7 910.2,763.0" stroke-width="1.0" opacity="0.75"/>
<path d="M696.4,825.5 Q696.8,813.5 696.1,803.3" stroke-width="1.0" opacity="0.75"/>
<path d="M870.3,764.5 Q876.7,763.9 881.9,762.5" stroke-width="1.0" opacity="0.75"/>
<path d="M575.1,854.5 Q576.8,853.9 578.2,858.5" stroke-width="1.0" opacity="0.75"/>
<path d="M785.0,843.7 Q772.7,839.8 762.1,837.1" stroke-width="1.0" opacity="0.75"/>
<path d="M535.6,853.1 Q547.1,850.6 562.2,843.6" stroke-width="1.0" opacity="0.75"/>
<path d="M646.9,822.7 Q634.4,827.8 622.7,831.0" stroke-width="1.0" opacity="0.75"/>
<path d="M903.6,886.5 Q901.9,889.2 897.5,889.0" stroke-width="1.0" opacity="0.75"/>
<path d="M615.8,885.7 Q628.9,897.7 639.5,906.7" stroke-width="1.0" opacity="0.75"/>
<path d="M584.4,879.3 Q575.1,896.4 568.8,907.8" stroke-width="1.0" opacity="0.75"/>
<path d="M845.2,818.5 Q841.5,833.2 841.9,842.8" stroke-width="1.0" opacity="0.75"/>
<path d="M518.7,891.7 Q522.3,892.2 521.6,888.5" stroke-width="1.0" opacity="0.75"/>
<path d="M607.3,882.9 Q601.1,873.3 600.3,868.7" stroke-width="1.0" opacity="0.75"/>
<path d="M845.2,818.5 Q859.0,819.2 869.1,820.2" stroke-width="1.0" opacity="0.75"/>
<path d="M909.0,815.6 Q909.0,808.4 910.6,795.4" stroke-width="1.0" opacity="0.75"/>
<path d="M692.0,795.7 Q691.4,810.8 696.4,825.5" stroke-width="1.0" opacity="0.75"/>
<path d="M530.2,880.5 Q522.8,885.0 516.1,894.0" stroke-width="1.0" opacity="0.75"/>
<path d="M845.2,818.5 Q838.2,815.7 832.5,810.5" stroke-width="1.0" opacity="0.75"/>
<path d="M570.0,838.1 Q574.8,843.5 575.1,854.5" stroke-width="1.0" opacity="0.75"/>
<path d="M793.2,851.5 Q785.9,843.8 778.3,841.0" stroke-width="1.0" opacity="0.75"/>
<path d="M878.1,745.4 Q893.1,732.1 904.5,723.7" stroke-width="1.0" opacity="0.75"/>
<path d="M695.0,909.2 Q688.2,908.9 687.1,909.9" stroke-width="1.0" opacity="0.75"/>
<path d="M761.9,868.0 Q768.4,872.1 772.2,878.4" stroke-width="1.0" opacity="0.75"/>
<path d="M815.2,814.9 Q821.6,814.5 832.5,810.5" stroke-width="1.0" opacity="0.75"/>
<path d="M865.4,880.2 Q862.4,877.3 855.7,870.1" stroke-width="1.0" opacity="0.75"/>
<path d="M887.6,773.2 Q881.3,767.5 877.3,762.6" stroke-width="1.0" opacity="0.75"/>
<path d="M609.0,900.1 Q622.7,903.7 639.5,906.7" stroke-width="1.0" opacity="0.75"/>
<path d="M518.7,891.7 Q509.7,887.1 502.8,884.5" stroke-width="1.0" opacity="0.75"/>
<path d="M744.4,797.6 Q742.5,799.4 737.3,795.8" stroke-width="1.0" opacity="0.75"/>
<path d="M696.1,803.3 Q704.2,815.7 711.2,832.8" stroke-width="1.0" opacity="0.75"/>
<path d="M889.5,789.9 Q891.4,786.2 891.4,783.2" stroke-width="1.0" opacity="0.75"/>
<path d="M865.3,846.4 Q870.1,834.6 869.1,820.2" stroke-width="1.0" opacity="0.75"/>
<path d="M605.9,825.2 Q598.0,821.5 586.1,815.4" stroke-width="1.0" opacity="0.75"/>
<path d="M778.3,841.0 Q770.4,841.4 762.1,837.1" stroke-width="1.0" opacity="0.75"/>
<path d="M877.3,762.6 Q875.8,762.3 870.3,764.5" stroke-width="1.0" opacity="0.75"/>
<path d="M280.5,899.5 Q275.3,889.4 273.1,878.1" stroke-width="1.0" opacity="0.7"/>
<path d="M251.5,859.0 Q261.4,869.3 269.8,876.0" stroke-width="1.0" opacity="0.7"/>
<path d="M363.8,912.9 Q365.3,907.7 364.3,905.6" stroke-width="1.0" opacity="0.7"/>
<path d="M454.3,883.2 Q457.6,881.6 461.8,879.7" stroke-width="1.0" opacity="0.7"/>
<path d="M251.5,859.0 Q247.1,862.6 248.7,871.8" stroke-width="1.0" opacity="0.7"/>
<path d="M250.4,850.6 Q249.0,858.9 248.7,871.8" stroke-width="1.0" opacity="0.7"/>
<path d="M350.3,859.9 Q357.6,857.7 362.2,858.5" stroke-width="1.0" opacity="0.7"/>
<path d="M283.7,836.7 Q264.6,841.7 250.4,850.6" stroke-width="1.0" opacity="0.7"/>
<path d="M327.6,900.8 Q322.4,898.6 320.4,899.8" stroke-width="1.0" opacity="0.7"/>
<path d="M470.4,890.0 Q476.2,901.0 481.7,912.4" stroke-width="1.0" opacity="0.7"/>
<path d="M426.2,902.4 Q429.0,896.7 434.1,889.2" stroke-width="1.0" opacity="0.7"/>
<path d="M450.1,882.0 Q440.8,885.3 434.9,883.6" stroke-width="1.0" opacity="0.7"/>
<path d="M285.0,898.9 Q285.5,900.6 280.5,899.5" stroke-width="1.0" opacity="0.7"/>
<path d="M253.4,838.1 Q251.5,844.4 250.4,850.6" stroke-width="1.0" opacity="0.7"/>
<path d="M368.2,863.3 Q365.7,858.2 362.2,858.5" stroke-width="1.0" opacity="0.7"/>
<path d="M434.1,889.2 Q432.4,885.2 431.6,880.8" stroke-width="1.0" opacity="0.7"/>
<path d="M364.3,905.6 Q361.9,905.9 363.3,911.1" stroke-width="1.0" opacity="0.7"/>
<path d="M390.5,868.6 Q381.1,865.2 368.2,863.3" stroke-width="1.0" opacity="0.7"/>
<path d="M361.2,894.0 Q362.4,905.1 363.3,911.1" stroke-width="1.0" opacity="0.7"/>
<path d="M269.8,876.0 Q258.1,890.7 245.0,907.9" stroke-width="1.0" opacity="0.7"/>
<path d="M431.6,880.8 Q430.3,867.1 423.2,855.0" stroke-width="1.0" opacity="0.7"/>
<path d="M320.4,910.9 Q317.5,906.4 320.4,899.8" stroke-width="1.0" opacity="0.7"/>
<path d="M358.2,904.5 Q357.3,898.1 361.2,894.0" stroke-width="1.0" opacity="0.7"/>
<path d="M245.0,907.9 Q248.9,890.8 248.7,871.8" stroke-width="1.0" opacity="0.7"/>
<path d="M434.1,889.2 Q431.6,886.1 434.9,883.6" stroke-width="1.0" opacity="0.7"/>
<path d="M390.5,868.6 Q396.2,867.4 403.1,866.4" stroke-width="1.0" opacity="0.7"/>
<path d="M280.5,899.5 Q261.0,904.2 245.0,907.9" stroke-width="1.0" opacity="0.7"/>
<path d="M431.6,880.8 Q430.7,880.9 434.9,883.6" stroke-width="1.0" opacity="0.7"/>
<path d="M487.8,907.1 Q484.0,912.4 481.7,912.4" stroke-width="1.0" opacity="0.7"/>
<path d="M472.8,885.4 Q474.7,900.4 481.7,912.4" stroke-width="1.0" opacity="0.7"/>
<path d="M320.4,899.8 Q328.1,890.8 339.6,881.0" stroke-width="1.0" opacity="0.7"/>
<path d="M251.5,859.0 Q250.3,854.6 250.4,850.6" stroke-width="1.0" opacity="0.7"/>
<path d="M454.3,883.2 Q465.0,883.6 472.8,885.4" stroke-width="1.0" opacity="0.7"/>
<path d="M423.0,912.4 Q426.3,898.6 434.1,889.2" stroke-width="1.0" opacity="0.7"/>
<path d="M283.7,836.7 Q266.0,839.5 253.4,838.1" stroke-width="1.0" opacity="0.7"/>
<path d="M379.8,904.0 Q372.4,910.3 363.3,911.1" stroke-width="1.0" opacity="0.7"/>
<path d="M470.4,890.0 Q467.2,882.0 461.8,879.7" stroke-width="1.0" opacity="0.7"/>
<path d="M368.2,863.3 Q360.2,863.3 350.3,859.9" stroke-width="1.0" opacity="0.7"/>
<path d="M361.2,894.0 Q364.1,899.7 364.3,905.6" stroke-width="1.0" opacity="0.7"/>
<path d="M327.6,900.8 Q332.8,890.6 339.6,881.0" stroke-width="1.0" opacity="0.7"/>
<path d="M487.8,907.1 Q480.9,897.2 470.4,890.0" stroke-width="1.0" opacity="0.7"/>
<path d="M285.0,898.9 Q277.5,887.3 269.8,876.0" stroke-width="1.0" opacity="0.7"/>
<path d="M423.2,855.0 Q415.9,862.5 403.1,866.4" stroke-width="1.0" opacity="0.7"/>
<path d="M450.1,882.0 Q458.5,882.9 461.8,879.7" stroke-width="1.0" opacity="0.7"/>
<path d="M269.8,876.0 Q277.0,861.5 286.6,850.3" stroke-width="1.0" opacity="0.7"/>
<path d="M431.6,880.8 Q440.8,880.0 450.1,882.0" stroke-width="1.0" opacity="0.7"/>
<path d="M423.2,855.0 Q428.6,870.4 434.9,883.6" stroke-width="1.0" opacity="0.7"/>
<path d="M320.4,910.9 Q332.5,896.4 339.6,881.0" stroke-width="1.0" opacity="0.7"/>
<path d="M390.5,868.6 Q378.2,861.1 362.2,858.5" stroke-width="1.0" opacity="0.7"/>
<path d="M363.8,912.9 Q360.2,911.7 358.2,904.5" stroke-width="1.0" opacity="0.7"/>
<path d="M426.2,902.4 Q428.4,892.5 434.9,883.6" stroke-width="1.0" opacity="0.7"/>
<path d="M379.8,904.0 Q369.5,902.3 364.3,905.6" stroke-width="1.0" opacity="0.7"/>
<path d="M269.8,876.0 Q261.6,876.8 248.7,871.8" stroke-width="1.0" opacity="0.7"/>
<path d="M363.8,912.9 Q372.7,906.2 379.8,904.0" stroke-width="1.0" opacity="0.7"/>
<path d="M280.5,899.5 Q273.9,886.2 269.8,876.0" stroke-width="1.0" opacity="0.7"/>
<path d="M472.8,885.4 Q468.3,883.6 461.8,879.7" stroke-width="1.0" opacity="0.7"/>
<path d="M251.5,859.0 Q252.1,848.7 253.4,838.1" stroke-width="1.0" opacity="0.7"/>
<path d="M358.2,904.5 Q358.4,908.1 363.3,911.1" stroke-width="1.0" opacity="0.7"/>
<path d="M379.8,904.0 Q389.1,895.5 393.0,883.9" stroke-width="1.0" opacity="0.7"/>
<path d="M327.6,900.8 Q321.6,905.9 320.4,910.9" stroke-width="1.0" opacity="0.7"/>
<path d="M423.0,912.4 Q425.9,906.0 426.2,902.4" stroke-width="1.0" opacity="0.7"/>
<path d="M470.4,890.0 Q474.0,887.5 472.8,885.4" stroke-width="1.0" opacity="0.7"/>
<path d="M363.8,912.9 Q364.8,911.4 363.3,911.1" stroke-width="1.0" opacity="0.7"/>
<path d="M403.1,866.4 Q401.0,876.9 393.0,883.9" stroke-width="1.0" opacity="0.7"/>
<path d="M350.3,859.9 Q345.4,868.3 339.6,881.0" stroke-width="1.0" opacity="0.7"/>
<path d="M283.7,836.7 Q284.8,840.6 286.6,850.3" stroke-width="1.0" opacity="0.7"/>
<path d="M454.3,883.2 Q452.7,884.9 450.1,882.0" stroke-width="1.0" opacity="0.7"/>
<path d="M285.0,898.9 Q277.1,888.6 273.1,878.1" stroke-width="1.0" opacity="0.7"/>
<path d="M361.2,894.0 Q350.3,886.9 339.6,881.0" stroke-width="1.0" opacity="0.7"/>
<path d="M273.1,878.1 Q281.1,866.8 286.6,850.3" stroke-width="1.0" opacity="0.7"/>
<path d="M454.3,883.2 Q463.6,886.4 470.4,890.0" stroke-width="1.0" opacity="0.7"/>
<path d="M423.0,912.4 Q431.7,897.0 434.9,883.6" stroke-width="1.0" opacity="0.7"/>
<path d="M269.8,876.0 Q272.9,878.0 273.1,878.1" stroke-width="1.0" opacity="0.7"/>
<path d="M358.2,904.5 Q362.8,907.1 364.3,905.6" stroke-width="1.0" opacity="0.7"/>
<path d="M487.8,907.1 Q478.6,897.0 472.8,885.4" stroke-width="1.0" opacity="0.7"/>
<path d="M390.5,868.6 Q391.2,877.2 393.0,883.9" stroke-width="1.0" opacity="0.7"/>
<path d="M150.7,435.7 Q147.7,441.5 143.9,444.6" stroke-width="1.1" opacity="0.75"/>
<path d="M135.6,324.6 Q146.7,316.2 160.1,311.0" stroke-width="1.1" opacity="0.75"/>
<path d="M132.5,318.4 Q133.1,314.1 130.0,312.9" stroke-width="1.1" opacity="0.75"/>
<path d="M132.5,318.4 Q124.9,311.2 121.0,304.7" stroke-width="1.1" opacity="0.75"/>
<path d="M136.1,655.9 Q132.9,660.9 127.2,670.7" stroke-width="1.1" opacity="0.75"/>
<path d="M68.9,487.1 Q72.2,469.9 77.6,454.6" stroke-width="1.1" opacity="0.75"/>
<path d="M113.8,458.2 Q103.2,442.8 88.7,428.2" stroke-width="1.1" opacity="0.75"/>
<path d="M127.2,670.7 Q137.4,680.9 143.3,695.0" stroke-width="1.1" opacity="0.75"/>
<path d="M142.5,326.3 Q159.1,323.1 177.7,318.1" stroke-width="1.1" opacity="0.75"/>
<path d="M89.7,547.6 Q96.0,542.4 97.7,537.8" stroke-width="1.1" opacity="0.75"/>
<path d="M136.1,655.9 Q141.4,664.5 150.0,677.7" stroke-width="1.1" opacity="0.75"/>
<path d="M143.9,444.6 Q136.5,436.0 128.7,431.2" stroke-width="1.1" opacity="0.75"/>
<path d="M136.8,361.8 Q145.2,376.2 149.9,386.6" stroke-width="1.1" opacity="0.75"/>
<path d="M116.6,603.9 Q103.4,614.8 94.1,628.4" stroke-width="1.1" opacity="0.75"/>
<path d="M121.0,304.7 Q130.1,315.5 135.6,324.6" stroke-width="1.1" opacity="0.75"/>
<path d="M170.5,535.1 Q155.9,538.8 137.7,544.2" stroke-width="1.1" opacity="0.75"/>
<path d="M113.8,458.2 Q93.4,455.2 77.6,454.6" stroke-width="1.1" opacity="0.75"/>
<path d="M150.7,435.7 Q141.5,432.1 128.7,431.2" stroke-width="1.1" opacity="0.75"/>
<path d="M97.7,537.8 Q92.7,540.5 89.6,544.2" stroke-width="1.1" opacity="0.75"/>
<path d="M150.0,677.7 Q146.7,678.7 144.3,680.9" stroke-width="1.1" opacity="0.75"/>
<path d="M183.3,533.3 Q189.0,518.5 189.6,507.9" stroke-width="1.1" opacity="0.75"/>
<path d="M127.2,670.7 Q100.6,684.5 79.9,693.1" stroke-width="1.1" opacity="0.75"/>
<path d="M113.8,458.2 Q131.1,454.3 143.9,444.6" stroke-width="1.1" opacity="0.75"/>
<path d="M171.4,495.3 Q173.5,497.3 176.5,493.8" stroke-width="1.1" opacity="0.75"/>
<path d="M116.6,603.9 Q99.1,607.9 76.4,615.2" stroke-width="1.1" opacity="0.75"/>
<path d="M102.8,683.6 Q116.5,679.2 127.2,670.7" stroke-width="1.1" opacity="0.75"/>
<path d="M100.5,595.3 Q125.6,599.1 148.7,602.6" stroke-width="1.1" opacity="0.75"/>
<path d="M142.5,326.3 Q137.8,324.5 135.6,324.6" stroke-width="1.1" opacity="0.75"/>
<path d="M76.4,615.2 Q86.8,602.7 100.5,595.3" stroke-width="1.1" opacity="0.75"/>
<path d="M105.6,513.2 Q98.1,527.4 89.6,544.2" stroke-width="1.1" opacity="0.75"/>
<path d="M128.7,431.2 Q110.6,427.0 88.7,428.2" stroke-width="1.1" opacity="0.75"/>
<path d="M134.5,326.9 Q135.9,323.8 132.5,318.4" stroke-width="1.1" opacity="0.75"/>
<path d="M74.9,326.0 Q79.6,331.2 79.2,331.6" stroke-width="1.1" opacity="0.75"/>
<path d="M149.9,386.6 Q143.3,375.8 131.8,364.0" stroke-width="1.1" opacity="0.75"/>
<path d="M116.6,603.9 Q129.7,604.7 148.7,602.6" stroke-width="1.1" opacity="0.75"/>
<path d="M127.2,670.7 Q133.8,674.6 144.3,680.9" stroke-width="1.1" opacity="0.75"/>
<path d="M79.9,693.1 Q112.6,694.2 143.3,695.0" stroke-width="1.1" opacity="0.75"/>
<path d="M105.6,513.2 Q119.7,504.8 134.8,491.2" stroke-width="1.1" opacity="0.75"/>
<path d="M176.5,493.8 Q179.9,473.4 181.9,454.9" stroke-width="1.1" opacity="0.75"/>
<path d="M113.8,458.2 Q119.8,446.9 128.7,431.2" stroke-width="1.1" opacity="0.75"/>
<path d="M134.7,423.4 Q142.6,431.2 150.7,435.7" stroke-width="1.1" opacity="0.75"/>
<path d="M66.6,523.1 Q46.7,536.0 28.5,552.5" stroke-width="1.1" opacity="0.75"/>
<path d="M130.0,312.9 Q125.7,310.7 121.0,304.7" stroke-width="1.1" opacity="0.75"/>
<path d="M66.6,523.1 Q76.2,535.4 89.6,544.2" stroke-width="1.1" opacity="0.75"/>
<path d="M136.1,655.9 Q146.0,659.9 150.8,660.3" stroke-width="1.1" opacity="0.75"/>
<path d="M181.9,454.9 Q164.8,446.8 143.9,444.6" stroke-width="1.1" opacity="0.75"/>
<path d="M116.6,603.9 Q109.3,601.8 100.5,595.3" stroke-width="1.1" opacity="0.75"/>
<path d="M157.7,542.4 Q167.8,536.5 183.3,533.3" stroke-width="1.1" opacity="0.75"/>
<path d="M66.6,523.1 Q75.1,531.7 86.4,539.9" stroke-width="1.1" opacity="0.75"/>
<path d="M74.9,326.0 Q85.4,343.8 96.8,361.8" stroke-width="1.1" opacity="0.75"/>
<path d="M170.5,535.1 Q181.7,518.5 189.6,507.9" stroke-width="1.1" opacity="0.75"/>
<path d="M150.0,677.7 Q135.9,671.9 127.2,670.7" stroke-width="1.1" opacity="0.75"/>
<path d="M132.5,318.4 Q131.8,318.9 135.6,324.6" stroke-width="1.1" opacity="0.75"/>
<path d="M178.8,340.0 Q172.3,327.6 160.1,311.0" stroke-width="1.1" opacity="0.75"/>
<path d="M136.8,361.8 Q131.9,362.9 131.8,364.0" stroke-width="1.1" opacity="0.75"/>
<path d="M157.7,542.4 Q163.0,537.6 170.5,535.1" stroke-width="1.1" opacity="0.75"/>
<path d="M89.7,547.6 Q87.2,544.6 86.4,539.9" stroke-width="1.1" opacity="0.75"/>
<path d="M150.8,660.3 Q148.1,669.8 144.3,680.9" stroke-width="1.1" opacity="0.75"/>
<path d="M105.6,513.2 Q85.4,499.1 68.9,487.1" stroke-width="1.1" opacity="0.75"/>
<path d="M113.8,458.2 Q122.0,475.0 134.8,491.2" stroke-width="1.1" opacity="0.75"/>
<path d="M176.5,493.8 Q184.3,500.1 189.6,507.9" stroke-width="1.1" opacity="0.75"/>
<path d="M77.7,312.7 Q96.8,306.8 121.0,304.7" stroke-width="1.1" opacity="0.75"/>
<path d="M177.7,318.1 Q168.2,315.2 160.1,311.0" stroke-width="1.1" opacity="0.75"/>
<path d="M142.5,366.9 Q138.8,364.7 131.8,364.0" stroke-width="1.1" opacity="0.75"/>
<path d="M134.7,423.4 Q141.1,434.7 143.9,444.6" stroke-width="1.1" opacity="0.75"/>
<path d="M136.8,361.8 Q116.4,361.0 96.8,361.8" stroke-width="1.1" opacity="0.75"/>
<path d="M86.4,539.9 Q57.4,547.4 28.5,552.5" stroke-width="1.1" opacity="0.75"/>
<path d="M86.4,539.9 Q87.5,543.2 89.6,544.2" stroke-width="1.1" opacity="0.75"/>
<path d="M105.6,513.2 Q101.4,524.0 97.7,537.8" stroke-width="1.1" opacity="0.75"/>
<path d="M77.7,312.7 Q76.5,320.5 74.9,326.0" stroke-width="1.1" opacity="0.75"/>
<path d="M171.4,495.3 Q177.9,501.1 189.6,507.9" stroke-width="1.1" opacity="0.75"/>
<path d="M150.7,435.7 Q165.9,447.6 181.9,454.9" stroke-width="1.1" opacity="0.75"/>
<path d="M96.8,361.8 Q90.6,345.9 79.2,331.6" stroke-width="1.1" opacity="0.75"/>
<path d="M122.9,554.3 Q112.7,547.8 97.7,537.8" stroke-width="1.1" opacity="0.75"/>
<path d="M86.4,539.9 Q94.6,526.3 105.6,513.2" stroke-width="1.1" opacity="0.75"/>
<path d="M142.5,326.3 Q149.1,320.5 160.1,311.0" stroke-width="1.1" opacity="0.75"/>
<path d="M144.3,680.9 Q144.8,690.2 143.3,695.0" stroke-width="1.1" opacity="0.75"/>
<path d="M157.7,542.4 Q149.4,544.3 137.7,544.2" stroke-width="1.1" opacity="0.75"/>
<path d="M136.1,655.9 Q143.8,629.6 148.7,602.6" stroke-width="1.1" opacity="0.75"/>
<path d="M94.1,628.4 Q82.9,622.3 76.4,615.2" stroke-width="1.1" opacity="0.75"/>
<path d="M88.7,428.2 Q80.2,439.3 77.6,454.6" stroke-width="1.1" opacity="0.75"/>
<path d="M96.8,361.8 Q116.0,360.2 131.8,364.0" stroke-width="1.1" opacity="0.75"/>
<path d="M142.5,326.3 Q135.1,319.9 132.5,318.4" stroke-width="1.1" opacity="0.75"/>
<path d="M89.7,547.6 Q61.4,548.1 28.5,552.5" stroke-width="1.1" opacity="0.75"/>
<path d="M136.8,361.8 Q136.8,366.4 142.5,366.9" stroke-width="1.1" opacity="0.75"/>
<path d="M89.7,547.6 Q87.4,548.0 89.6,544.2" stroke-width="1.1" opacity="0.75"/>
<path d="M134.7,423.4 Q132.7,429.3 128.7,431.2" stroke-width="1.1" opacity="0.75"/>
<path d="M102.8,683.6 Q94.1,688.8 79.9,693.1" stroke-width="1.1" opacity="0.75"/>
<path d="M134.5,326.9 Q136.9,323.0 135.6,324.6" stroke-width="1.1" opacity="0.75"/>
<path d="M66.6,523.1 Q79.8,535.4 89.7,547.6" stroke-width="1.1" opacity="0.75"/>
<path d="M134.5,326.9 Q139.8,324.2 142.5,326.3" stroke-width="1.1" opacity="0.75"/>
<path d="M137.7,544.2 Q131.8,551.8 122.9,554.3" stroke-width="1.1" opacity="0.75"/>
<path d="M77.7,312.7 Q75.8,321.1 79.2,331.6" stroke-width="1.1" opacity="0.75"/>
<path d="M171.4,495.3 Q153.5,495.2 134.8,491.2" stroke-width="1.1" opacity="0.75"/>
<path d="M150.0,677.7 Q145.1,684.4 143.3,695.0" stroke-width="1.1" opacity="0.75"/>
<path d="M142.5,326.3 Q159.1,333.8 178.8,340.0" stroke-width="1.1" opacity="0.75"/>
<path d="M178.8,340.0 Q179.8,328.4 177.7,318.1" stroke-width="1.1" opacity="0.75"/>
<path d="M130.0,312.9 Q132.0,318.1 135.6,324.6" stroke-width="1.1" opacity="0.75"/>
<path d="M94.1,628.4 Q96.4,611.4 100.5,595.3" stroke-width="1.1" opacity="0.75"/>
<path d="M142.5,366.9 Q143.7,376.7 149.9,386.6" stroke-width="1.1" opacity="0.75"/>
<path d="M89.7,547.6 Q109.1,550.4 122.9,554.3" stroke-width="1.1" opacity="0.75"/>
<path d="M66.6,523.1 Q69.3,503.1 68.9,487.1" stroke-width="1.1" opacity="0.75"/>
<path d="M86.4,539.9 Q93.2,540.4 97.7,537.8" stroke-width="1.1" opacity="0.75"/>
<path d="M183.3,533.3 Q178.0,534.3 170.5,535.1" stroke-width="1.1" opacity="0.75"/>
<path d="M102.8,683.6 Q123.5,683.1 144.3,680.9" stroke-width="1.1" opacity="0.75"/>
<path d="M150.8,660.3 Q152.8,666.9 150.0,677.7" stroke-width="1.1" opacity="0.75"/>
<path d="M689.7,48.7 Q692.3,55.7 696.0,57.3" stroke-width="1.0" opacity="0.55"/>
<path d="M565.1,92.9 Q564.9,79.3 563.3,62.0" stroke-width="1.0" opacity="0.55"/>
<path d="M829.2,60.7 Q834.7,56.3 842.6,55.6" stroke-width="1.0" opacity="0.55"/>
<path d="M629.7,80.3 Q618.1,89.5 607.1,103.2" stroke-width="1.0" opacity="0.55"/>
<path d="M887.0,164.3 Q889.4,172.9 893.3,175.9" stroke-width="1.0" opacity="0.55"/>
<path d="M732.2,95.1 Q724.1,85.8 718.1,82.4" stroke-width="1.0" opacity="0.55"/>
<path d="M887.0,164.3 Q877.5,166.6 873.5,172.8" stroke-width="1.0" opacity="0.55"/>
<path d="M747.0,74.7 Q758.4,85.6 766.4,98.2" stroke-width="1.0" opacity="0.55"/>
<path d="M601.0,75.6 Q614.1,75.5 629.7,80.3" stroke-width="1.0" opacity="0.55"/>
<path d="M842.6,55.6 Q847.8,41.7 847.2,28.7" stroke-width="1.0" opacity="0.55"/>
<path d="M689.7,48.7 Q702.6,40.2 719.0,37.0" stroke-width="1.0" opacity="0.55"/>
<path d="M657.1,133.2 Q663.1,142.0 674.5,154.7" stroke-width="1.0" opacity="0.55"/>
<path d="M629.2,39.5 Q630.5,57.8 629.7,80.3" stroke-width="1.0" opacity="0.55"/>
<path d="M621.0,187.0 Q636.3,160.1 657.1,133.2" stroke-width="1.0" opacity="0.55"/>
<path d="M893.3,175.9 Q881.9,177.3 873.5,172.8" stroke-width="1.0" opacity="0.55"/>
<path d="M816.7,174.0 Q815.0,183.6 817.8,192.8" stroke-width="1.0" opacity="0.55"/>
<path d="M646.0,116.7 Q655.3,118.3 661.2,121.0" stroke-width="1.0" opacity="0.55"/>
<path d="M887.0,164.3 Q888.2,143.7 883.6,123.5" stroke-width="1.0" opacity="0.55"/>
<path d="M731.3,52.8 Q723.6,44.4 719.0,37.0" stroke-width="1.0" opacity="0.55"/>
<path d="M853.3,165.4 Q832.2,169.2 816.7,174.0" stroke-width="1.0" opacity="0.55"/>
<path d="M872.7,36.5 Q893.3,48.6 917.0,56.0" stroke-width="1.0" opacity="0.55"/>
<path d="M829.2,60.7 Q840.2,44.7 847.2,28.7" stroke-width="1.0" opacity="0.55"/>
<path d="M747.0,74.7 Q736.8,83.4 732.2,95.1" stroke-width="1.0" opacity="0.55"/>
<path d="M816.7,174.0 Q791.3,155.9 769.0,141.2" stroke-width="1.0" opacity="0.55"/>
<path d="M747.0,74.7 Q761.5,74.8 779.1,70.5" stroke-width="1.0" opacity="0.55"/>
<path d="M887.0,164.3 Q893.9,159.3 905.2,159.8" stroke-width="1.0" opacity="0.55"/>
<path d="M565.1,92.9 Q585.6,84.6 601.0,75.6" stroke-width="1.0" opacity="0.55"/>
<path d="M853.3,165.4 Q838.5,178.5 817.8,192.8" stroke-width="1.0" opacity="0.55"/>
<path d="M816.7,174.0 Q825.3,153.5 829.2,131.2" stroke-width="1.0" opacity="0.55"/>
<path d="M565.1,92.9 Q562.4,120.8 556.2,145.8" stroke-width="1.0" opacity="0.55"/>
<path d="M719.0,37.0 Q707.5,44.7 696.0,57.3" stroke-width="1.0" opacity="0.55"/>
<path d="M557.5,133.1 Q555.1,141.7 556.2,145.8" stroke-width="1.0" opacity="0.55"/>
<path d="M621.0,187.0 Q650.2,173.4 674.5,154.7" stroke-width="1.0" opacity="0.55"/>
<path d="M605.3,40.0 Q602.1,58.8 601.0,75.6" stroke-width="1.0" opacity="0.55"/>
<path d="M887.0,164.3 Q872.0,165.7 853.3,165.4" stroke-width="1.0" opacity="0.55"/>
<path d="M872.7,36.5 Q861.8,32.8 847.2,28.7" stroke-width="1.0" opacity="0.55"/>
<path d="M893.3,175.9 Q900.1,169.0 905.2,159.8" stroke-width="1.0" opacity="0.55"/>
<path d="M766.4,98.2 Q771.4,86.8 779.1,70.5" stroke-width="1.0" opacity="0.55"/>
<path d="M742.9,70.5 Q739.8,59.1 731.3,52.8" stroke-width="1.0" opacity="0.55"/>
<path d="M883.6,123.5 Q897.2,144.4 905.2,159.8" stroke-width="1.0" opacity="0.55"/>
<path d="M853.3,165.4 Q842.3,145.5 829.2,131.2" stroke-width="1.0" opacity="0.55"/>
<path d="M742.9,70.5 Q747.3,70.4 747.0,74.7" stroke-width="1.0" opacity="0.55"/>
<path d="M601.0,75.6 Q584.9,69.8 563.3,62.0" stroke-width="1.0" opacity="0.55"/>
<path d="M629.2,39.5 Q614.6,37.7 605.3,40.0" stroke-width="1.0" opacity="0.55"/>
<path d="M872.7,36.5 Q878.1,38.2 881.8,39.1" stroke-width="1.0" opacity="0.55"/>
<path d="M853.3,165.4 Q864.9,171.7 873.5,172.8" stroke-width="1.0" opacity="0.55"/>
<path d="M601.0,75.6 Q602.4,86.4 607.1,103.2" stroke-width="1.0" opacity="0.55"/>
<path d="M742.9,70.5 Q733.0,73.5 718.1,82.4" stroke-width="1.0" opacity="0.55"/>
<path d="M917.0,56.0 Q901.7,45.2 881.8,39.1" stroke-width="1.0" opacity="0.55"/>
<path d="M847.2,28.7 Q866.4,35.6 881.8,39.1" stroke-width="1.0" opacity="0.55"/>
<path d="M657.1,133.2 Q653.8,125.3 646.0,116.7" stroke-width="1.0" opacity="0.55"/>
<path d="M674.5,154.7 Q670.1,136.0 661.2,121.0" stroke-width="1.0" opacity="0.55"/>
<path d="M769.0,141.2 Q768.7,118.7 766.4,98.2" stroke-width="1.0" opacity="0.55"/>
<path d="M565.1,92.9 Q563.7,114.6 557.5,133.1" stroke-width="1.0" opacity="0.55"/>
<path d="M657.1,133.2 Q659.0,127.3 661.2,121.0" stroke-width="1.0" opacity="0.55"/>
<path d="M207.0,291.4 Q221.3,293.0 235.2,291.3" stroke-width="1.0" opacity="0.6"/>
<path d="M116.9,236.8 Q112.3,221.5 112.3,203.2" stroke-width="1.0" opacity="0.6"/>
<path d="M83.0,291.1 Q82.3,294.4 78.0,293.3" stroke-width="1.0" opacity="0.6"/>
<path d="M138.5,187.0 Q122.0,194.4 111.0,196.5" stroke-width="1.0" opacity="0.6"/>
<path d="M78.0,293.3 Q77.2,277.4 81.3,263.4" stroke-width="1.0" opacity="0.6"/>
<path d="M103.3,240.5 Q105.5,233.8 106.3,222.2" stroke-width="1.0" opacity="0.6"/>
<path d="M84.0,182.3 Q99.0,181.2 115.8,174.9" stroke-width="1.0" opacity="0.6"/>
<path d="M100.8,294.2 Q92.1,291.6 83.0,291.1" stroke-width="1.0" opacity="0.6"/>
<path d="M229.2,167.0 Q217.2,167.0 207.4,170.8" stroke-width="1.0" opacity="0.6"/>
<path d="M106.3,222.2 Q109.1,227.4 116.9,236.8" stroke-width="1.0" opacity="0.6"/>
<path d="M200.8,173.9 Q186.4,174.5 169.7,169.0" stroke-width="1.0" opacity="0.6"/>
<path d="M185.0,295.0 Q189.2,283.1 197.5,276.7" stroke-width="1.0" opacity="0.6"/>
<path d="M115.8,174.9 Q116.3,185.9 111.0,196.5" stroke-width="1.0" opacity="0.6"/>
<path d="M207.4,170.8 Q217.0,181.2 227.7,194.8" stroke-width="1.0" opacity="0.6"/>
<path d="M195.4,288.3 Q190.8,293.6 185.0,295.0" stroke-width="1.0" opacity="0.6"/>
<path d="M98.7,287.5 Q89.7,274.9 81.3,263.4" stroke-width="1.0" opacity="0.6"/>
<path d="M138.5,187.0 Q151.4,180.5 169.7,169.0" stroke-width="1.0" opacity="0.6"/>
<path d="M207.0,291.4 Q199.4,284.0 197.5,276.7" stroke-width="1.0" opacity="0.6"/>
<path d="M227.7,194.8 Q221.8,206.2 211.9,222.1" stroke-width="1.0" opacity="0.6"/>
<path d="M103.3,240.5 Q111.5,241.3 116.9,236.8" stroke-width="1.0" opacity="0.6"/>
<path d="M154.2,236.1 Q136.3,238.2 116.9,236.8" stroke-width="1.0" opacity="0.6"/>
<path d="M46.1,219.8 Q62.7,200.7 84.0,182.3" stroke-width="1.0" opacity="0.6"/>
<path d="M229.2,167.0 Q212.9,172.5 200.8,173.9" stroke-width="1.0" opacity="0.6"/>
<path d="M138.5,187.0 Q124.2,194.8 112.3,203.2" stroke-width="1.0" opacity="0.6"/>
<path d="M84.0,182.3 Q100.5,191.5 111.0,196.5" stroke-width="1.0" opacity="0.6"/>
<path d="M229.2,167.0 Q231.3,180.6 227.7,194.8" stroke-width="1.0" opacity="0.6"/>
<path d="M200.8,173.9 Q204.0,173.8 207.4,170.8" stroke-width="1.0" opacity="0.6"/>
<path d="M170.8,261.3 Q162.4,247.4 154.2,236.1" stroke-width="1.0" opacity="0.6"/>
<path d="M98.7,287.5 Q99.1,288.7 100.8,294.2" stroke-width="1.0" opacity="0.6"/>
<path d="M207.0,291.4 Q200.4,292.8 195.4,288.3" stroke-width="1.0" opacity="0.6"/>
<path d="M207.4,170.8 Q191.3,170.7 169.7,169.0" stroke-width="1.0" opacity="0.6"/>
<path d="M46.1,219.8 Q63.7,240.6 81.3,263.4" stroke-width="1.0" opacity="0.6"/>
<path d="M200.8,173.9 Q203.9,196.7 211.9,222.1" stroke-width="1.0" opacity="0.6"/>
<path d="M98.7,287.5 Q90.0,292.6 78.0,293.3" stroke-width="1.0" opacity="0.6"/>
<path d="M115.8,174.9 Q113.3,190.8 112.3,203.2" stroke-width="1.0" opacity="0.6"/>
<path d="M207.0,291.4 Q197.7,294.3 185.0,295.0" stroke-width="1.0" opacity="0.6"/>
<path d="M195.4,288.3 Q216.3,291.4 235.2,291.3" stroke-width="1.0" opacity="0.6"/>
<path d="M246.3,280.9 Q239.9,287.3 235.2,291.3" stroke-width="1.0" opacity="0.6"/>
<path d="M153.2,251.7 Q133.8,244.1 116.9,236.8" stroke-width="1.0" opacity="0.6"/>
<path d="M154.2,236.1 Q155.3,245.0 153.2,251.7" stroke-width="1.0" opacity="0.6"/>
<path d="M138.5,187.0 Q125.9,183.6 115.8,174.9" stroke-width="1.0" opacity="0.6"/>
<path d="M83.0,291.1 Q83.0,277.7 81.3,263.4" stroke-width="1.0" opacity="0.6"/>
<path d="M111.0,196.5 Q105.7,209.6 106.3,222.2" stroke-width="1.0" opacity="0.6"/>
<path d="M238.1,247.3 Q240.7,265.1 246.3,280.9" stroke-width="1.0" opacity="0.6"/>
<path d="M111.0,196.5 Q111.4,201.8 112.3,203.2" stroke-width="1.0" opacity="0.6"/>
<path d="M103.3,240.5 Q93.2,253.7 81.3,263.4" stroke-width="1.0" opacity="0.6"/>
<path d="M46.1,219.8 Q75.3,221.9 106.3,222.2" stroke-width="1.0" opacity="0.6"/>
<path d="M238.1,247.3 Q226.4,236.7 211.9,222.1" stroke-width="1.0" opacity="0.6"/>
<path d="M238.1,247.3 Q235.8,271.4 235.2,291.3" stroke-width="1.0" opacity="0.6"/>
<path d="M84.0,182.3 Q100.4,193.9 112.3,203.2" stroke-width="1.0" opacity="0.6"/>
<path d="M98.7,287.5 Q93.7,292.0 83.0,291.1" stroke-width="1.0" opacity="0.6"/>
<path d="M100.8,294.2 Q89.5,293.9 78.0,293.3" stroke-width="1.0" opacity="0.6"/>
<path d="M106.3,222.2 Q107.3,214.7 112.3,203.2" stroke-width="1.0" opacity="0.6"/>
<path d="M207.0,291.4 Q229.3,286.0 246.3,280.9" stroke-width="1.0" opacity="0.6"/>
<path d="M170.8,261.3 Q163.2,257.8 153.2,251.7" stroke-width="1.0" opacity="0.6"/>
<path d="M170.8,261.3 Q185.5,267.0 197.5,276.7" stroke-width="1.0" opacity="0.6"/>
<path d="M195.4,288.3 Q198.1,283.0 197.5,276.7" stroke-width="1.0" opacity="0.6"/>
<path d="M507.5,628.9 Q524.8,618.2 536.2,603.4" stroke-width="0.9" opacity="0.45"/>
<path d="M781.0,207.9 Q780.1,219.8 778.1,227.3" stroke-width="0.9" opacity="0.45"/>
<path d="M289.0,185.3 Q264.6,185.1 238.3,181.4" stroke-width="0.9" opacity="0.45"/>
<path d="M465.7,300.5 Q482.6,292.6 504.8,289.2" stroke-width="0.9" opacity="0.45"/>
<path d="M581.3,537.5 Q583.3,528.6 590.1,518.5" stroke-width="0.9" opacity="0.45"/>
<path d="M210.2,375.1 Q220.5,389.7 228.2,408.4" stroke-width="0.9" opacity="0.45"/>
<path d="M339.0,647.4 Q313.1,651.2 287.1,659.5" stroke-width="0.9" opacity="0.45"/>
<path d="M630.4,345.3 Q642.4,341.8 652.2,335.0" stroke-width="0.9" opacity="0.45"/>
<path d="M284.0,406.4 Q302.9,417.1 326.7,422.1" stroke-width="0.9" opacity="0.45"/>
<path d="M472.8,443.5 Q468.7,469.8 462.6,500.7" stroke-width="0.9" opacity="0.45"/>
<path d="M292.9,517.8 Q298.8,515.7 306.5,517.8" stroke-width="0.9" opacity="0.45"/>
<path d="M445.9,683.7 Q460.4,703.7 472.2,718.7" stroke-width="0.9" opacity="0.45"/>
<path d="M640.8,337.2 Q644.5,334.2 652.2,335.0" stroke-width="0.9" opacity="0.45"/>
<path d="M287.3,689.4 Q304.0,700.7 319.1,707.7" stroke-width="0.9" opacity="0.45"/>
<path d="M277.7,498.3 Q268.5,499.6 256.5,501.5" stroke-width="0.9" opacity="0.45"/>
<path d="M472.8,443.5 Q464.3,431.5 460.6,418.1" stroke-width="0.9" opacity="0.45"/>
<path d="M273.2,692.2 Q241.3,686.7 209.9,677.5" stroke-width="0.9" opacity="0.45"/>
<path d="M446.3,318.4 Q452.6,333.1 458.0,345.1" stroke-width="0.9" opacity="0.45"/>
<path d="M396.5,183.3 Q424.9,183.9 447.6,182.9" stroke-width="0.9" opacity="0.45"/>
<path d="M454.9,595.9 Q456.6,617.4 453.4,641.7" stroke-width="0.9" opacity="0.45"/>
<path d="M411.7,286.0 Q387.3,271.1 368.8,251.7" stroke-width="0.9" opacity="0.45"/>
<path d="M211.4,597.7 Q220.5,607.9 235.2,612.1" stroke-width="0.9" opacity="0.45"/>
<path d="M625.5,407.9 Q617.9,419.2 610.8,435.8" stroke-width="0.9" opacity="0.45"/>
<path d="M306.5,517.8 Q306.8,528.8 309.7,537.1" stroke-width="0.9" opacity="0.45"/>
<path d="M539.1,433.2 Q537.1,405.7 536.5,376.7" stroke-width="0.9" opacity="0.45"/>
<path d="M261.1,375.5 Q258.7,379.0 261.1,378.5" stroke-width="0.9" opacity="0.45"/>
<path d="M275.2,240.6 Q256.0,213.0 238.3,181.4" stroke-width="0.9" opacity="0.45"/>
<path d="M411.7,286.0 Q426.9,303.2 446.3,318.4" stroke-width="0.9" opacity="0.45"/>
<path d="M480.4,226.4 Q470.1,236.6 460.1,248.0" stroke-width="0.9" opacity="0.45"/>
<path d="M796.0,213.6 Q785.6,211.0 781.0,207.9" stroke-width="0.9" opacity="0.45"/>
<path d="M447.0,686.8 Q461.7,700.3 472.2,718.7" stroke-width="0.9" opacity="0.45"/>
<path d="M534.4,321.3 Q535.1,346.1 536.5,376.7" stroke-width="0.9" opacity="0.45"/>
<path d="M630.4,345.3 Q627.2,351.9 618.2,352.9" stroke-width="0.9" opacity="0.45"/>
<path d="M280.1,719.9 Q284.8,704.6 287.3,689.4" stroke-width="0.9" opacity="0.45"/>
<path d="M458.0,390.1 Q455.4,365.3 458.0,345.1" stroke-width="0.9" opacity="0.45"/>
<path d="M277.7,498.3 Q288.7,494.4 297.2,487.0" stroke-width="0.9" opacity="0.45"/>
<path d="M539.1,433.2 Q561.7,434.1 578.5,430.6" stroke-width="0.9" opacity="0.45"/>
<path d="M426.4,668.4 Q439.5,653.6 453.4,641.7" stroke-width="0.9" opacity="0.45"/>
<path d="M256.1,612.2 Q245.9,611.2 235.2,612.1" stroke-width="0.9" opacity="0.45"/>
<path d="M287.3,689.4 Q287.5,676.8 287.1,659.5" stroke-width="0.9" opacity="0.45"/>
<path d="M610.5,317.7 Q609.7,325.5 609.4,327.5" stroke-width="0.9" opacity="0.45"/>
<path d="M533.5,254.6 Q545.4,246.9 554.6,244.8" stroke-width="0.9" opacity="0.45"/>
<path d="M531.1,325.9 Q535.3,352.3 536.5,376.7" stroke-width="0.9" opacity="0.45"/>
<path d="M458.0,390.1 Q460.0,401.1 460.6,418.1" stroke-width="0.9" opacity="0.45"/>
<path d="M327.0,479.0 Q314.4,482.9 297.2,487.0" stroke-width="0.9" opacity="0.45"/>
<path d="M312.2,191.8 Q300.8,186.6 289.0,185.3" stroke-width="0.9" opacity="0.45"/>
<path d="M210.2,375.1 Q208.9,373.8 213.2,378.3" stroke-width="0.9" opacity="0.45"/>
<path d="M507.5,628.9 Q514.0,630.6 524.0,634.6" stroke-width="0.9" opacity="0.45"/>
<path d="M458.0,390.1 Q463.3,414.2 472.8,443.5" stroke-width="0.9" opacity="0.45"/>
<path d="M446.3,318.4 Q457.4,310.7 465.7,300.5" stroke-width="0.9" opacity="0.45"/>
<path d="M460.6,418.1 Q463.9,457.7 462.6,500.7" stroke-width="0.9" opacity="0.45"/>
<path d="M211.4,597.7 Q216.2,594.4 218.3,589.8" stroke-width="0.9" opacity="0.45"/>
<path d="M250.8,620.8 Q227.9,651.4 209.9,677.5" stroke-width="0.9" opacity="0.45"/>
<path d="M332.6,533.9 Q320.3,533.6 309.7,537.1" stroke-width="0.9" opacity="0.45"/>
<path d="M510.6,680.9 Q512.7,675.9 518.5,665.8" stroke-width="0.9" opacity="0.45"/>
<path d="M370.9,401.7 Q383.0,417.3 398.4,434.4" stroke-width="0.9" opacity="0.45"/>
<path d="M523.9,590.3 Q530.3,596.0 536.2,603.4" stroke-width="0.9" opacity="0.45"/>
<path d="M504.8,289.2 Q518.9,305.0 531.1,325.9" stroke-width="0.9" opacity="0.45"/>
<path d="M742.4,189.2 Q725.5,215.9 709.4,241.6" stroke-width="0.9" opacity="0.45"/>
<path d="M280.1,719.9 Q277.3,706.7 273.2,692.2" stroke-width="0.9" opacity="0.45"/>
<path d="M228.2,408.4 Q219.3,394.1 213.2,378.3" stroke-width="0.9" opacity="0.45"/>
<path d="M213.2,273.6 Q247.1,257.0 275.2,240.6" stroke-width="0.9" opacity="0.45"/>
<path d="M720.0,323.5 Q735.1,314.7 748.3,301.8" stroke-width="0.9" opacity="0.45"/>
<path d="M536.2,603.4 Q546.3,599.9 559.4,599.3" stroke-width="0.9" opacity="0.45"/>
<path d="M445.9,683.7 Q452.5,661.5 453.4,641.7" stroke-width="0.9" opacity="0.45"/>
<path d="M327.0,479.0 Q336.7,481.0 347.3,484.6" stroke-width="0.9" opacity="0.45"/>
<path d="M748.3,301.8 Q751.7,298.9 749.2,295.5" stroke-width="0.9" opacity="0.45"/>
<path d="M742.4,189.2 Q762.6,206.2 778.1,227.3" stroke-width="0.9" opacity="0.45"/>
<path d="M211.6,463.7 Q210.9,469.3 212.8,473.1" stroke-width="0.9" opacity="0.45"/>
<path d="M235.2,612.1 Q225.7,602.0 218.3,589.8" stroke-width="0.9" opacity="0.45"/>
<path d="M426.4,668.4 Q436.7,675.0 447.0,686.8" stroke-width="0.9" opacity="0.45"/>
<path d="M685.7,186.8 Q711.8,187.6 742.4,189.2" stroke-width="0.9" opacity="0.45"/>
<path d="M269.6,568.0 Q270.7,564.0 271.4,564.0" stroke-width="0.9" opacity="0.45"/>
<path d="M433.9,221.9 Q418.8,220.2 406.5,224.6" stroke-width="0.9" opacity="0.45"/>
<path d="M510.6,680.9 Q515.9,656.6 524.0,634.6" stroke-width="0.9" opacity="0.45"/>
<path d="M453.0,208.1 Q457.4,211.1 463.1,213.0" stroke-width="0.9" opacity="0.45"/>
<path d="M534.4,321.3 Q534.9,324.9 531.1,325.9" stroke-width="0.9" opacity="0.45"/>
<path d="M761.6,323.4 Q756.4,311.3 748.3,301.8" stroke-width="0.9" opacity="0.45"/>
<path d="M620.7,257.9 Q628.3,246.6 635.9,232.6" stroke-width="0.9" opacity="0.45"/>
<path d="M327.0,479.0 Q346.2,482.5 360.6,489.1" stroke-width="0.9" opacity="0.45"/>
<path d="M275.2,240.6 Q279.2,210.3 289.0,185.3" stroke-width="0.9" opacity="0.45"/>
<path d="M287.3,689.4 Q280.3,693.0 273.2,692.2" stroke-width="0.9" opacity="0.45"/>
<path d="M534.4,321.3 Q517.5,306.9 504.8,289.2" stroke-width="0.9" opacity="0.45"/>
<path d="M529.8,256.8 Q543.0,252.9 554.6,244.8" stroke-width="0.9" opacity="0.45"/>
<path d="M608.3,228.4 Q624.5,228.1 635.9,232.6" stroke-width="0.9" opacity="0.45"/>
<path d="M347.3,484.6 Q355.7,484.6 360.6,489.1" stroke-width="0.9" opacity="0.45"/>
<path d="M445.9,683.7 Q444.2,684.6 447.0,686.8" stroke-width="0.9" opacity="0.45"/>
<path d="M617.2,344.3 Q617.6,346.0 618.2,352.9" stroke-width="0.9" opacity="0.45"/>
<path d="M572.2,548.3 Q575.4,541.0 581.3,537.5" stroke-width="0.9" opacity="0.45"/>
<path d="M272.9,537.9 Q266.7,530.8 264.9,528.6" stroke-width="0.9" opacity="0.45"/>
<path d="M541.1,220.6 Q545.0,231.0 554.6,244.8" stroke-width="0.9" opacity="0.45"/>
<path d="M572.2,548.3 Q580.1,532.9 590.1,518.5" stroke-width="0.9" opacity="0.45"/>
<path d="M326.8,691.6 Q324.1,700.3 319.1,707.7" stroke-width="0.9" opacity="0.45"/>
<path d="M454.9,595.9 Q481.2,611.3 507.5,628.9" stroke-width="0.9" opacity="0.45"/>
<path d="M280.2,629.6 Q266.2,623.4 250.8,620.8" stroke-width="0.9" opacity="0.45"/>
<path d="M326.8,691.6 Q305.1,688.2 287.3,689.4" stroke-width="0.9" opacity="0.45"/>
<path d="M235.2,612.1 Q244.0,614.3 250.8,620.8" stroke-width="0.9" opacity="0.45"/>
<path d="M720.0,323.5 Q732.9,308.6 749.2,295.5" stroke-width="0.9" opacity="0.45"/>
<path d="M312.2,191.8 Q294.1,217.1 275.2,240.6" stroke-width="0.9" opacity="0.45"/>
<path d="M383.6,613.0 Q361.9,630.8 339.0,647.4" stroke-width="0.9" opacity="0.45"/>
<path d="M578.5,430.6 Q592.8,435.7 610.8,435.8" stroke-width="0.9" opacity="0.45"/>
<path d="M368.8,251.7 Q389.1,237.6 406.5,224.6" stroke-width="0.9" opacity="0.45"/>
<path d="M524.4,561.1 Q529.7,582.7 536.2,603.4" stroke-width="0.9" opacity="0.45"/>
<path d="M256.1,612.2 Q251.2,617.4 250.8,620.8" stroke-width="0.9" opacity="0.45"/>
<path d="M453.0,208.1 Q452.8,194.7 447.6,182.9" stroke-width="0.9" opacity="0.45"/>
<path d="M264.9,528.6 Q257.1,519.7 249.3,513.8" stroke-width="0.9" opacity="0.45"/>
<path d="M796.0,213.6 Q789.5,219.7 778.1,227.3" stroke-width="0.9" opacity="0.45"/>
<path d="M761.6,323.4 Q754.6,310.7 749.2,295.5" stroke-width="0.9" opacity="0.45"/>
<path d="M296.7,332.1 Q300.5,343.9 305.9,350.9" stroke-width="0.9" opacity="0.45"/>
<path d="M261.1,378.5 Q272.0,393.0 284.0,406.4" stroke-width="0.9" opacity="0.45"/>
<path d="M685.7,186.8 Q696.4,214.7 709.4,241.6" stroke-width="0.9" opacity="0.45"/>
<path d="M509.0,210.8 Q524.9,213.3 541.1,220.6" stroke-width="0.9" opacity="0.45"/>
<path d="M332.6,533.9 Q321.9,523.8 306.5,517.8" stroke-width="0.9" opacity="0.45"/>
<path d="M518.5,665.8 Q521.7,651.3 524.0,634.6" stroke-width="0.9" opacity="0.45"/>
<path d="M242.5,460.9 Q227.5,466.0 212.8,473.1" stroke-width="0.9" opacity="0.45"/>
<path d="M383.6,613.0 Q384.7,591.9 386.2,564.7" stroke-width="0.9" opacity="0.45"/>
<path d="M249.3,513.8 Q250.0,510.0 256.5,501.5" stroke-width="0.9" opacity="0.45"/>
<path d="M370.9,401.7 Q376.2,418.9 380.2,436.3" stroke-width="0.9" opacity="0.45"/>
<path d="M396.5,183.3 Q402.3,204.8 406.5,224.6" stroke-width="0.9" opacity="0.45"/>
<path d="M370.9,401.7 Q350.8,414.8 326.7,422.1" stroke-width="0.9" opacity="0.45"/>
<path d="M296.7,332.1 Q310.2,343.0 323.6,355.6" stroke-width="0.9" opacity="0.45"/>
<path d="M339.0,647.4 Q332.1,672.0 326.8,691.6" stroke-width="0.9" opacity="0.45"/>
<path d="M463.1,213.0 Q455.3,195.4 447.6,182.9" stroke-width="0.9" opacity="0.45"/>
<path d="M256.1,612.2 Q268.7,618.6 280.2,629.6" stroke-width="0.9" opacity="0.45"/>
<path d="M305.9,350.9 Q313.8,354.2 323.6,355.6" stroke-width="0.9" opacity="0.45"/>
<path d="M529.8,256.8 Q518.0,273.2 504.8,289.2" stroke-width="0.9" opacity="0.45"/>
<path d="M242.5,460.9 Q229.1,463.0 211.6,463.7" stroke-width="0.9" opacity="0.45"/>
<path d="M625.5,407.9 Q604.8,421.1 578.5,430.6" stroke-width="0.9" opacity="0.45"/>
<path d="M453.0,208.1 Q442.0,216.7 433.9,221.9" stroke-width="0.9" opacity="0.45"/>
<path d="M480.4,226.4 Q493.9,221.3 509.0,210.8" stroke-width="0.9" opacity="0.45"/>
<path d="M608.3,228.4 Q615.2,242.7 620.7,257.9" stroke-width="0.9" opacity="0.45"/>
<path d="M261.1,375.5 Q270.6,393.0 284.0,406.4" stroke-width="0.9" opacity="0.45"/>
<path d="M523.9,590.3 Q523.2,572.8 524.4,561.1" stroke-width="0.9" opacity="0.45"/>
<path d="M617.2,344.3 Q615.7,328.0 610.5,317.7" stroke-width="0.9" opacity="0.45"/>
<path d="M277.7,498.3 Q282.6,505.2 292.9,517.8" stroke-width="0.9" opacity="0.45"/>
<path d="M617.2,344.3 Q614.2,336.3 609.4,327.5" stroke-width="0.9" opacity="0.45"/>
<path d="M272.9,537.9 Q271.2,555.5 269.6,568.0" stroke-width="0.9" opacity="0.45"/>
<path d="M523.9,590.3 Q541.5,593.0 559.4,599.3" stroke-width="0.9" opacity="0.45"/>
<path d="M463.1,213.0 Q464.6,228.1 460.1,248.0" stroke-width="0.9" opacity="0.45"/>
<path d="M742.4,189.2 Q759.0,196.9 781.0,207.9" stroke-width="0.9" opacity="0.45"/>
<path d="M480.4,226.4 Q474.6,219.2 463.1,213.0" stroke-width="0.9" opacity="0.45"/>
<path d="M640.8,337.2 Q634.7,340.5 630.4,345.3" stroke-width="0.9" opacity="0.45"/>
<path d="M617.2,344.3 Q623.0,346.4 630.4,345.3" stroke-width="0.9" opacity="0.45"/>
<path d="M272.9,537.9 Q273.0,549.6 271.4,564.0" stroke-width="0.9" opacity="0.45"/>
<path d="M256.6,286.5 Q233.0,281.9 213.2,273.6" stroke-width="0.9" opacity="0.45"/>
<path d="M332.6,533.9 Q359.8,549.3 386.2,564.7" stroke-width="0.9" opacity="0.45"/>
<path d="M380.2,436.3 Q387.5,438.2 398.4,434.4" stroke-width="0.9" opacity="0.45"/>
<path d="M256.6,286.5 Q266.1,266.0 275.2,240.6" stroke-width="0.9" opacity="0.45"/>
<path d="M445.9,683.7 Q437.2,676.9 426.4,668.4" stroke-width="0.9" opacity="0.45"/>
<path d="M533.5,254.6 Q528.8,258.2 529.8,256.8" stroke-width="0.9" opacity="0.45"/>
<path d="M280.2,629.6 Q285.8,642.1 287.1,659.5" stroke-width="0.9" opacity="0.45"/>
</g>
</g>
<path d="M67.0,308.0 L97.0,296.0 L116.0,294.0 L128.0,308.0 L145.0,308.0 L160.0,313.0 L174.0,303.0 L194.0,303.0 L208.0,313.0 L225.0,323.0 L235.0,335.0 L237.0,340.0 L230.0,347.0 L225.0,354.0 L210.0,361.0 L203.0,371.0 L198.0,381.0 L194.0,385.0 L196.0,398.0 L198.0,414.0 L196.0,426.0 L198.0,438.0 L194.0,446.0 L186.0,450.0 L186.0,460.0 L191.0,474.0 L189.0,489.0 L174.0,494.0 L153.0,496.0 L162.0,508.0 L167.0,523.0 L174.0,537.0 L184.0,542.0 L189.0,554.0 L179.0,564.0 L171.0,573.0 L169.0,583.0 L167.0,597.0 L179.0,612.0 L190.0,614.0 L186.0,626.0 L172.0,634.0 L162.0,650.0 L155.0,667.0 L157.0,682.0 L161.0,697.0" fill="none" stroke="#707070" stroke-width="1.6"/>
<path d="M514.0,185.0 L530.0,195.0 L544.0,206.0 L560.0,212.0 L580.0,222.0 L595.0,228.0 L615.0,233.0 L637.0,236.0 L660.0,232.0 L677.0,228.0 L695.0,233.0 L707.0,238.0 L725.0,244.0 L744.0,252.0 L758.0,262.0 L775.0,265.0 L798.0,262.0 L812.0,262.0 L825.0,262.0 L842.0,266.0" fill="none" stroke="#707070" stroke-width="1.6"/>
<path d="M490.0,862.0 L497.0,872.0 L508.0,880.0 L514.0,888.0 L520.0,897.0 L522.0,915.0" fill="none" stroke="#707070" stroke-width="1.6"/>
<g fill="#fff" stroke="#555" stroke-width="1.4">
<circle cx="594" cy="52" r="3.6"/>
<circle cx="722" cy="160" r="3.6"/>
<circle cx="907" cy="141" r="3.6"/>
<circle cx="876" cy="160" r="3.6"/>
<circle cx="460" cy="226" r="3.6"/>
<circle cx="810" cy="302" r="3.6"/>
<circle cx="83" cy="372" r="3.6"/>
<circle cx="97" cy="450" r="3.6"/>
<circle cx="108" cy="703" r="3.6"/>
<circle cx="127" cy="710" r="3.6"/>
<circle cx="350" cy="734" r="3.6"/>
<circle cx="261" cy="809" r="3.6"/>
<circle cx="510" cy="893" r="3.6"/>
</g>
<circle cx="50.3" cy="573.4" r="4.5" fill="#fff" stroke="#444" stroke-width="1.5"/><circle cx="50.3" cy="573.4" r="2" fill="#333"/>
<g fill="#505050" stroke="#fff" stroke-width="2.6" stroke-linejoin="round" paint-order="stroke" font-size="16">
<text x="560" y="45.5" font-size="16.5" textLength="67" lengthAdjust="spacingAndGlyphs">Bordeaux</text>
<text x="684" y="152.6" font-size="18.5" textLength="77" lengthAdjust="spacingAndGlyphs">Toulouse</text>
<text x="884" y="133" font-size="17.5">Nimes</text>
<text x="832" y="183" font-size="17.5">Montpellier</text>
<text x="253" y="160" textLength="37" lengthAdjust="spacingAndGlyphs">Gijón</text>
<text x="351.7" y="165.7" textLength="73.8" lengthAdjust="spacingAndGlyphs">Santander</text>
<text x="454" y="179" textLength="102" lengthAdjust="spacingAndGlyphs">San Sebastián</text>
<text x="63.5" y="176" textLength="65" lengthAdjust="spacingAndGlyphs">A Coruña</text>
<text x="235" y="202" textLength="49" lengthAdjust="spacingAndGlyphs">Oviedo</text>
<text x="425" y="214" textLength="44.6" lengthAdjust="spacingAndGlyphs">Bilbao</text>
<text x="96" y="222.5" textLength="83" lengthAdjust="spacingAndGlyphs">Santiago de</text>
<text x="96" y="236" textLength="85.6" lengthAdjust="spacingAndGlyphs">Compostela</text>
<text x="260" y="242" textLength="35" lengthAdjust="spacingAndGlyphs">León</text>
<text x="408" y="247" textLength="105" lengthAdjust="spacingAndGlyphs">Vitoria-Gasteiz</text>
<text x="102" y="264" textLength="59" lengthAdjust="spacingAndGlyphs">Ourense</text>
<text x="-7.4" y="268.6">Pontevedra</text>
<text x="786.4" y="295" textLength="47" lengthAdjust="spacingAndGlyphs">Girona</text>
<text x="61" y="298" textLength="32.7" lengthAdjust="spacingAndGlyphs">Vigo</text>
<text x="295" y="322.7" textLength="71" lengthAdjust="spacingAndGlyphs">Valladolid</text>
<text x="535.8" y="320" textLength="77" lengthAdjust="spacingAndGlyphs">Zaragoza</text>
<text x="61.4" y="362.5" textLength="44.5" lengthAdjust="spacingAndGlyphs">Porto</text>
<text x="729" y="344">Barcelona</text>
<text x="676" y="366">Tarragona</text>
<text x="231" y="379.4" textLength="79.5" lengthAdjust="spacingAndGlyphs">Salamanca</text>
<text x="373" y="418">Madrid</text>
<text x="66" y="443" textLength="61.4" lengthAdjust="spacingAndGlyphs">Coimbra</text>
<text x="594.3" y="445.6" textLength="67" lengthAdjust="spacingAndGlyphs">Castellón</text>
<text x="587.4" y="461.3" textLength="79" lengthAdjust="spacingAndGlyphs">de la Plana</text>
<text x="351.5" y="472" textLength="53" lengthAdjust="spacingAndGlyphs">Toledo</text>
<text x="572" y="503.5" textLength="70" lengthAdjust="spacingAndGlyphs">Valencia</text>
<text x="773" y="525.7" textLength="51.4" lengthAdjust="spacingAndGlyphs">Palma</text>
<text x="24.5" y="563.7" textLength="54" lengthAdjust="spacingAndGlyphs">Lisbon</text>
<text x="194.8" y="566" textLength="58" lengthAdjust="spacingAndGlyphs">Badajoz</text>
<text x="591.5" y="580.6" textLength="64" lengthAdjust="spacingAndGlyphs">Benidorm</text>
<text x="572" y="622.7" textLength="57" lengthAdjust="spacingAndGlyphs">Alicante</text>
<text x="296" y="633.6" textLength="61.5" lengthAdjust="spacingAndGlyphs">Córdoba</text>
<text x="531" y="654" textLength="56.6" lengthAdjust="spacingAndGlyphs">Murcia</text>
<text x="225" y="671.8" textLength="52.6" lengthAdjust="spacingAndGlyphs">Seville</text>
<text x="165.8" y="681.5" textLength="48" lengthAdjust="spacingAndGlyphs">Huelva</text>
<text x="372" y="689" textLength="60" lengthAdjust="spacingAndGlyphs">Granada</text>
<text x="79.2" y="698.6" textLength="55.4" lengthAdjust="spacingAndGlyphs">Albufeira</text>
<text x="446.7" y="716.7" textLength="55" lengthAdjust="spacingAndGlyphs">Almería</text>
<text x="320" y="723" textLength="60.4" lengthAdjust="spacingAndGlyphs">Málaga</text>
<text x="114" y="726.3" textLength="26.6" lengthAdjust="spacingAndGlyphs">Faro</text>
<text x="193.4" y="804" textLength="60" lengthAdjust="spacingAndGlyphs">Tangier</text>
<text x="462.9" y="890" textLength="41" lengthAdjust="spacingAndGlyphs">Oujda</text>
<text x="173" y="920" textLength="45.7" lengthAdjust="spacingAndGlyphs">Rabat</text>
<text x="298" y="920" textLength="29" lengthAdjust="spacingAndGlyphs">Fes</text>
<text x="213" y="822" font-size="16">طنجة</text><text x="470" y="905" font-size="16">وجدة</text>
</g>
<g fill="#2a2a2a" stroke="#fff" stroke-width="2.6" stroke-linejoin="round" paint-order="stroke" font-weight="bold">
<text x="28.5" y="502.2" font-size="23.5" letter-spacing="2.5">Portugal</text>
<text x="372.5" y="520.7" font-size="31" letter-spacing="3.2">Spain</text>
<text x="692.8" y="258.8" font-size="16.5" letter-spacing="1.8">Andorra</text>
<text x="248.5" y="785.3" font-size="17.5" letter-spacing="1.75">Gibraltar</text>
</g>
<g fill="#7d7d7d" font-style="italic" font-size="14">
<path id="bob" d="M308,57.5 Q348,38 400,50" fill="none"/><text font-size="14.5" textLength="88"><textPath href="#bob" textLength="88">Bay of Biscay</textPath></text>
<text transform="translate(716,484) rotate(-42)">Balearic Sea</text>
<text transform="translate(386,788) rotate(9)">Alboran Sea</text>
</g>
<circle cx="105.7" cy="170.5" r="7.2" fill="#ff0000"/>
<circle cx="121.4" cy="177" r="7.2" fill="#ff0000"/>
<circle cx="131" cy="173.4" r="7.2" fill="#ffa500"/>
<circle cx="138.2" cy="165.7" r="7.2" fill="#ffff00"/>
<circle cx="141.8" cy="185" r="7.2" fill="#ffa500"/>
<circle cx="88.8" cy="186.6" r="7.2" fill="#ff0000"/>
<circle cx="92.5" cy="181.8" r="7.2" fill="#ffa500"/>
<circle cx="101.6" cy="192.2" r="7.2" fill="#ff0000"/>
<circle cx="214" cy="197" r="7.2" fill="#ff0000"/>
<circle cx="150.8" cy="211.9" r="7.2" fill="#ffff00"/>
<circle cx="111.2" cy="218.7" r="7.2" fill="#ff0000"/>
<circle cx="140.6" cy="244.4" r="7.2" fill="#ff0000"/>
<circle cx="207" cy="249" r="7.2" fill="#ffa500"/>
<circle cx="213" cy="248" r="7.2" fill="#ffa500"/>
<circle cx="217.7" cy="244.4" r="7.2" fill="#ffff00"/>
<circle cx="81.6" cy="262" r="7.2" fill="#ff0000"/>
<circle cx="129.8" cy="268.5" r="7.2" fill="#ffa500"/>
<circle cx="74.4" cy="279.8" r="7.2" fill="#ff0000"/>
<circle cx="252.7" cy="163.7" r="7.2" fill="#ffa500"/>
<circle cx="269.6" cy="163.7" r="7.2" fill="#ff0000"/>
<circle cx="269.6" cy="168" r="7.2" fill="#ffff00"/>
<circle cx="258.7" cy="174.6" r="7.2" fill="#ffa500"/>
<circle cx="247.9" cy="181.8" r="7.2" fill="#ffa500"/>
<circle cx="256.3" cy="179.4" r="7.2" fill="#ffff00"/>
<circle cx="274.4" cy="187.8" r="7.2" fill="#ffa500"/>
<circle cx="262.3" cy="190.2" r="7.2" fill="#ff0000"/>
<circle cx="321.4" cy="174.6" r="7.2" fill="#ffa500"/>
<circle cx="385.2" cy="176.3" r="7.2" fill="#ff0000"/>
<circle cx="372" cy="181.8" r="7.2" fill="#ff0000"/>
<circle cx="372" cy="190.2" r="7.2" fill="#ff0000"/>
<circle cx="359.9" cy="198.7" r="7.2" fill="#ffa500"/>
<circle cx="367" cy="211.9" r="7.2" fill="#ffa500"/>
<circle cx="425" cy="178.2" r="7.2" fill="#ff0000"/>
<circle cx="437" cy="180.6" r="7.2" fill="#ff0000"/>
<circle cx="431" cy="193" r="7.2" fill="#ff0000"/>
<circle cx="444.2" cy="190.2" r="7.2" fill="#ffa500"/>
<circle cx="409.3" cy="216.7" r="7.2" fill="#00ffff"/>
<circle cx="443" cy="239.6" r="7.2" fill="#ffa500"/>
<circle cx="272" cy="228.8" r="7.2" fill="#00ffff"/>
<circle cx="269.6" cy="238.4" r="7.2" fill="#ffa500"/>
<circle cx="275.6" cy="248" r="7.2" fill="#00ffff"/>
<circle cx="398.5" cy="269.7" r="7.2" fill="#00ffff"/>
<circle cx="345.5" cy="302.2" r="7.2" fill="#00ffff"/>
<circle cx="328.6" cy="325.1" r="7.2" fill="#ffff00"/>
<circle cx="328.6" cy="332.4" r="7.2" fill="#ffff00"/>
<circle cx="395.6" cy="326.3" r="7.2" fill="#ff0000"/>
<circle cx="264.7" cy="339.6" r="7.2" fill="#00ffff"/>
<circle cx="317.7" cy="352.8" r="7.2" fill="#00ffff"/>
<circle cx="453.9" cy="193.8" r="7.2" fill="#ff0000"/>
<circle cx="463.5" cy="197.5" r="7.2" fill="#ffa500"/>
<circle cx="485.2" cy="197" r="7.2" fill="#ffa500"/>
<circle cx="511.7" cy="184.2" r="7.2" fill="#00ffff"/>
<circle cx="507" cy="185.4" r="7.2" fill="#ff0000"/>
<circle cx="502" cy="185.4" r="7.2" fill="#ffa500"/>
<circle cx="492.5" cy="221" r="7.2" fill="#ffff00"/>
<circle cx="472" cy="225.9" r="7.2" fill="#ffff00"/>
<circle cx="525" cy="227.6" r="7.2" fill="#ff0000"/>
<circle cx="547.9" cy="248" r="7.2" fill="#00ffff"/>
<circle cx="462.3" cy="254" r="7.2" fill="#ffff00"/>
<circle cx="475.6" cy="258.9" r="7.2" fill="#ff0000"/>
<circle cx="487.2" cy="260" r="7.2" fill="#ffff00"/>
<circle cx="487.2" cy="269.7" r="7.2" fill="#00ffff"/>
<circle cx="498.5" cy="269.7" r="7.2" fill="#ff0000"/>
<circle cx="514.6" cy="272.1" r="7.2" fill="#00ffff"/>
<circle cx="528.6" cy="279.4" r="7.2" fill="#ffff00"/>
<circle cx="517.7" cy="283" r="7.2" fill="#ffff00"/>
<circle cx="526.2" cy="291.9" r="7.2" fill="#00ffff"/>
<circle cx="603.7" cy="286.6" r="7.2" fill="#ffff00"/>
<circle cx="641.8" cy="305.4" r="7.2" fill="#ff0000"/>
<circle cx="557" cy="319.1" r="7.2" fill="#ffff00"/>
<circle cx="572.4" cy="327.5" r="7.2" fill="#ff0000"/>
<circle cx="619.6" cy="340" r="7.2" fill="#ffa500"/>
<circle cx="608" cy="352.8" r="7.2" fill="#ffff00"/>
<circle cx="810" cy="265" r="7.2" fill="#ffff00"/>
<circle cx="839.4" cy="271" r="7.2" fill="#ffff00"/>
<circle cx="746.7" cy="289.7" r="7.2" fill="#ff0000"/>
<circle cx="774.8" cy="295.5" r="7.2" fill="#ffa500"/>
<circle cx="771.5" cy="303.5" r="7.2" fill="#00ffff"/>
<circle cx="705" cy="305.9" r="7.2" fill="#ffff00"/>
<circle cx="784" cy="324" r="7.2" fill="#ffa500"/>
<circle cx="745.5" cy="321" r="7.2" fill="#ff0000"/>
<circle cx="733" cy="334" r="7.2" fill="#ff0000"/>
<circle cx="755" cy="333.6" r="7.2" fill="#ff0000"/>
<circle cx="764.7" cy="333" r="7.2" fill="#ff0000"/>
<circle cx="775.6" cy="332.4" r="7.2" fill="#ff0000"/>
<circle cx="785.2" cy="337.2" r="7.2" fill="#ffff00"/>
<circle cx="758.7" cy="340.8" r="7.2" fill="#ffff00"/>
<circle cx="772" cy="343.2" r="7.2" fill="#ffff00"/>
<circle cx="736.3" cy="353.3" r="7.2" fill="#ffa500"/>
<circle cx="755" cy="357.7" r="7.2" fill="#00ffff"/>
<circle cx="738.7" cy="365" r="7.2" fill="#ff0000"/>
<circle cx="668.8" cy="329.3" r="7.2" fill="#ffff00"/>
<circle cx="680.9" cy="336.5" r="7.2" fill="#ffff00"/>
<circle cx="676" cy="349.7" r="7.2" fill="#ffff00"/>
<circle cx="652.7" cy="363.7" r="7.2" fill="#ffff00"/>
<circle cx="657.5" cy="378" r="7.2" fill="#ffff00"/>
<circle cx="676.8" cy="374.5" r="7.2" fill="#ffff00"/>
<circle cx="704.5" cy="358.9" r="7.2" fill="#ffff00"/>
<circle cx="697.3" cy="373.3" r="7.2" fill="#ffa500"/>
<circle cx="708" cy="373.3" r="7.2" fill="#ffff00"/>
<circle cx="628.6" cy="363.7" r="7.2" fill="#ffa500"/>
<circle cx="627.4" cy="396.2" r="7.2" fill="#ffff00"/>
<circle cx="667" cy="407.8" r="7.2" fill="#ffff00"/>
<circle cx="647.9" cy="411.9" r="7.2" fill="#ffff00"/>
<circle cx="653.9" cy="421.5" r="7.2" fill="#ffa500"/>
<circle cx="626.2" cy="443.2" r="7.2" fill="#ff0000"/>
<circle cx="234.6" cy="419.1" r="7.2" fill="#00ffff"/>
<circle cx="255" cy="362.5" r="7.2" fill="#00ffff"/>
<circle cx="270.8" cy="386.6" r="7.2" fill="#00ffff"/>
<circle cx="317.7" cy="356" r="7.2" fill="#00ffff"/>
<circle cx="368.4" cy="387" r="7.2" fill="#00ffff"/>
<circle cx="394.1" cy="399.8" r="7.2" fill="#00ffff"/>
<circle cx="390.3" cy="410" r="7.2" fill="#00ffff"/>
<circle cx="374.8" cy="412.7" r="7.2" fill="#ffa500"/>
<circle cx="406.4" cy="416.4" r="7.2" fill="#ffff00"/>
<circle cx="410.7" cy="426" r="7.2" fill="#ffff00"/>
<circle cx="389.3" cy="421.8" r="7.2" fill="#ff0000"/>
<circle cx="397.8" cy="422.8" r="7.2" fill="#ff0000"/>
<circle cx="405.3" cy="428.2" r="7.2" fill="#ff0000"/>
<circle cx="405.3" cy="433.5" r="7.2" fill="#ff0000"/>
<circle cx="400" cy="438" r="7.2" fill="#ff0000"/>
<circle cx="379.6" cy="428.2" r="7.2" fill="#00ffff"/>
<circle cx="380.7" cy="440" r="7.2" fill="#ffff00"/>
<circle cx="411.7" cy="441.6" r="7.2" fill="#00ffff"/>
<circle cx="395.7" cy="447.5" r="7.2" fill="#ff0000"/>
<circle cx="397.8" cy="452.8" r="7.2" fill="#ff0000"/>
<circle cx="421.4" cy="451.7" r="7.2" fill="#ffff00"/>
<circle cx="386" cy="455" r="7.2" fill="#00ffff"/>
<circle cx="402.1" cy="462.4" r="7.2" fill="#ffa500"/>
<circle cx="359.3" cy="444.2" r="7.2" fill="#ffa500"/>
<circle cx="350.3" cy="434.8" r="7.2" fill="#00ffff"/>
<circle cx="374.3" cy="476.4" r="7.2" fill="#ffff00"/>
<circle cx="322.6" cy="469.2" r="7.2" fill="#ffff00"/>
<circle cx="252.7" cy="478.2" r="7.2" fill="#00ffff"/>
<circle cx="352.7" cy="503.5" r="7.2" fill="#ffff00"/>
<circle cx="379.2" cy="548.5" r="7.2" fill="#ffa500"/>
<circle cx="608.6" cy="358.4" r="7.2" fill="#ffff00"/>
<circle cx="620" cy="360" r="7.2" fill="#00ffff"/>
<circle cx="613.4" cy="373.8" r="7.2" fill="#ff0000"/>
<circle cx="626.2" cy="395.5" r="7.2" fill="#ffff00"/>
<circle cx="619" cy="404.7" r="7.2" fill="#ffff00"/>
<circle cx="558.7" cy="438" r="7.2" fill="#ffa500"/>
<circle cx="494.4" cy="461.3" r="7.2" fill="#00ffff"/>
<circle cx="549.8" cy="457.7" r="7.2" fill="#ffa500"/>
<circle cx="599.7" cy="461.3" r="7.2" fill="#ffa500"/>
<circle cx="616.5" cy="461.3" r="7.2" fill="#ffa500"/>
<circle cx="625" cy="475.7" r="7.2" fill="#ff0000"/>
<circle cx="628.6" cy="466.8" r="7.2" fill="#ffff00"/>
<circle cx="614" cy="469.2" r="7.2" fill="#ffff00"/>
<circle cx="591.2" cy="472.1" r="7.2" fill="#ff0000"/>
<circle cx="615.3" cy="480.6" r="7.2" fill="#ffa500"/>
<circle cx="606.9" cy="484.2" r="7.2" fill="#ff0000"/>
<circle cx="576.3" cy="490.2" r="7.2" fill="#ffff00"/>
<circle cx="610.5" cy="496.2" r="7.2" fill="#ff0000"/>
<circle cx="598.5" cy="501.5" r="7.2" fill="#ff0000"/>
<circle cx="609.3" cy="511.9" r="7.2" fill="#ff0000"/>
<circle cx="603.7" cy="508.7" r="7.2" fill="#ffff00"/>
<circle cx="549" cy="502.2" r="7.2" fill="#ffff00"/>
<circle cx="579.2" cy="513.6" r="7.2" fill="#ff0000"/>
<circle cx="570.3" cy="527" r="7.2" fill="#ff0000"/>
<circle cx="559.4" cy="542" r="7.2" fill="#ffff00"/>
<circle cx="600.4" cy="536.5" r="7.2" fill="#ff0000"/>
<circle cx="602" cy="552" r="7.2" fill="#ff0000"/>
<circle cx="617.7" cy="550.5" r="7.2" fill="#ffa500"/>
<circle cx="585.2" cy="565.7" r="7.2" fill="#ffa500"/>
<circle cx="600.4" cy="571.4" r="7.2" fill="#ffff00"/>
<circle cx="620" cy="583.5" r="7.2" fill="#ffff00"/>
<circle cx="562.3" cy="593" r="7.2" fill="#ffa500"/>
<circle cx="578" cy="593" r="7.2" fill="#ffa500"/>
<circle cx="602" cy="600" r="7.2" fill="#ff0000"/>
<circle cx="597.2" cy="597.5" r="7.2" fill="#ffa500"/>
<circle cx="597.2" cy="601.8" r="7.2" fill="#ffff00"/>
<circle cx="585.2" cy="608.3" r="7.2" fill="#ffff00"/>
<circle cx="575.6" cy="622.7" r="7.2" fill="#ff0000"/>
<circle cx="549" cy="631" r="7.2" fill="#ffff00"/>
<circle cx="557" cy="630" r="7.2" fill="#ff0000"/>
<circle cx="439" cy="616" r="7.2" fill="#ffff00"/>
<circle cx="511.2" cy="620.3" r="7.2" fill="#ffa500"/>
<circle cx="521.8" cy="654.8" r="7.2" fill="#ffff00"/>
<circle cx="561" cy="654" r="7.2" fill="#ffff00"/>
<circle cx="569.5" cy="662" r="7.2" fill="#ff0000"/>
<circle cx="573" cy="661.5" r="7.2" fill="#ff0000"/>
<circle cx="503.3" cy="693.8" r="7.2" fill="#ffff00"/>
<circle cx="499.7" cy="714.3" r="7.2" fill="#ff0000"/>
<circle cx="505.7" cy="713" r="7.2" fill="#ff0000"/>
<circle cx="494.9" cy="716.7" r="7.2" fill="#ff0000"/>
<circle cx="499.7" cy="722.7" r="7.2" fill="#ff0000"/>
<circle cx="475.6" cy="721.5" r="7.2" fill="#ff0000"/>
<circle cx="472" cy="722.7" r="7.2" fill="#ff0000"/>
<circle cx="451" cy="727.5" r="7.2" fill="#ff0000"/>
<circle cx="184.5" cy="557" r="7.2" fill="#ffa500"/>
<circle cx="227.4" cy="555.3" r="7.2" fill="#ffff00"/>
<circle cx="190" cy="591.4" r="7.2" fill="#ff0000"/>
<circle cx="223.7" cy="594.6" r="7.2" fill="#00ffff"/>
<circle cx="175.4" cy="684.7" r="7.2" fill="#ff0000"/>
<circle cx="189.6" cy="686" r="7.2" fill="#ff0000"/>
<circle cx="197.3" cy="686" r="7.2" fill="#ff0000"/>
<circle cx="185.7" cy="695" r="7.2" fill="#ff0000"/>
<circle cx="187" cy="697" r="7.2" fill="#ffff00"/>
<circle cx="213.3" cy="706.5" r="7.2" fill="#ff0000"/>
<circle cx="241.6" cy="734.2" r="7.2" fill="#ff0000"/>
<circle cx="232" cy="749" r="7.2" fill="#ff0000"/>
<circle cx="237" cy="752" r="7.2" fill="#ff0000"/>
<circle cx="246" cy="664.8" r="7.2" fill="#ff0000"/>
<circle cx="259.6" cy="682" r="7.2" fill="#ff0000"/>
<circle cx="255" cy="687.3" r="7.2" fill="#ff0000"/>
<circle cx="270.5" cy="767" r="7.2" fill="#ff0000"/>
<circle cx="286" cy="770.7" r="7.2" fill="#ff0000"/>
<circle cx="288.5" cy="775.5" r="7.2" fill="#ff0000"/>
<circle cx="282.5" cy="778" r="7.2" fill="#ff0000"/>
<circle cx="269.2" cy="728.4" r="7.2" fill="#ffff00"/>
<circle cx="278" cy="724.5" r="7.2" fill="#ffff00"/>
<circle cx="322" cy="712" r="7.2" fill="#ffff00"/>
<circle cx="367" cy="573.4" r="7.2" fill="#ff0000"/>
<circle cx="369.5" cy="574.6" r="7.2" fill="#ffff00"/>
<circle cx="317.7" cy="618" r="7.2" fill="#ffff00"/>
<circle cx="269.6" cy="630" r="7.2" fill="#ffa500"/>
<circle cx="326.2" cy="638" r="7.2" fill="#ffa500"/>
<circle cx="388.8" cy="621.5" r="7.2" fill="#ffa500"/>
<circle cx="438.2" cy="615.5" r="7.2" fill="#ffff00"/>
<circle cx="393.6" cy="646.8" r="7.2" fill="#ff0000"/>
<circle cx="388.8" cy="646.8" r="7.2" fill="#ffa500"/>
<circle cx="400.4" cy="697.4" r="7.2" fill="#ffa500"/>
<circle cx="405.7" cy="729.5" r="7.2" fill="#ff0000"/>
<circle cx="447.8" cy="727.5" r="7.2" fill="#ff0000"/>
<circle cx="796" cy="495.1" r="7.2" fill="#ff0000"/>
<circle cx="791.8" cy="504.2" r="7.2" fill="#ffff00"/>
<circle cx="800.9" cy="503.7" r="7.2" fill="#ffa500"/>
<circle cx="825" cy="488.2" r="7.2" fill="#ffa500"/>
<circle cx="815.3" cy="489.8" r="7.2" fill="#ffff00"/>
<circle cx="822.8" cy="478.5" r="7.2" fill="#ffff00"/>
<circle cx="901" cy="476.4" r="7.2" fill="#ffff00"/>
<circle cx="906.3" cy="476.4" r="7.2" fill="#ffff00"/>
<circle cx="393.2" cy="433.6" r="7.3" fill="#ff0000" stroke="#000" stroke-width="4.4"/>
<circle cx="428.3" cy="414.3" r="7.3" fill="#ffff00" stroke="#000" stroke-width="4.4"/>
<circle cx="764" cy="349.2" r="7.3" fill="#ffff00" stroke="#000" stroke-width="4.4"/>
<circle cx="793.6" cy="319.1" r="7.3" fill="#ffff00" stroke="#000" stroke-width="4.4"/>
<circle cx="249.3" cy="679" r="7.3" fill="#ff0000" stroke="#000" stroke-width="4.4"/>
<circle cx="202.4" cy="701.4" r="7.3" fill="#ff0000" stroke="#000" stroke-width="4.4"/>
<circle cx="86.4" cy="222.7" r="7.3" fill="#ffa500" stroke="#000" stroke-width="4.4"/>
<circle cx="63" cy="236" r="7.3" fill="#ffff00" stroke="#000" stroke-width="4.4"/>
<g font-size="32" fill="#000" stroke="#000" stroke-width="0.7">
<text x="395.8" y="471.5">1</text>
<text x="429" y="451.5">2</text>
<text x="765" y="385.9">3</text>
<text x="792.6" y="357.0">4</text>
<text x="250.2" y="716.7">5</text>
<text x="202.7" y="739.2">6</text>
<text x="86.6" y="260.5">7</text>
<text x="63.7" y="275.0">8</text>
</g>
<rect x="766" y="595" width="118" height="258" fill="#fff"/>
<rect x="766" y="595" width="53" height="59" fill="#ebebeb"/>
<circle cx="788" cy="622.5" r="7" fill="#00ffff"/>
<text x="842" y="635.5" font-size="36" text-anchor="middle" fill="#000">A</text>
<rect x="766" y="659" width="53" height="62" fill="#ebebeb"/>
<circle cx="788" cy="690" r="7" fill="#ffff00"/>
<text x="842" y="703" font-size="36" text-anchor="middle" fill="#000">B</text>
<rect x="766" y="726" width="53" height="62" fill="#ebebeb"/>
<circle cx="788" cy="758" r="7" fill="#ffa500"/>
<text x="842" y="771" font-size="36" text-anchor="middle" fill="#000">C</text>
<rect x="766" y="794" width="53" height="59" fill="#ebebeb"/>
<circle cx="788" cy="825" r="7" fill="#ff0000"/>
<text x="842" y="838" font-size="36" text-anchor="middle" fill="#000">D</text>
<text x="34" y="904" font-size="27" font-weight="bold" fill="#fff" stroke="#555" stroke-width="3.2" stroke-linejoin="round" paint-order="stroke" textLength="78" lengthAdjust="spacingAndGlyphs">Google</text>
<rect x="597" y="893" width="321" height="20" fill="#f2f2f2" opacity="0.85"/>
<text x="601" y="907.5" font-size="15.3" fill="#444">Map data ©2018 Google, Inst. Geogr. Nacional</text>
</svg>
<div style="position:absolute;left:1389px;top:378px;width:183px;height:101px;background:#00ccff"></div>
<div style="position:absolute;left:1575px;top:378px;width:173px;height:101px;background:#ffff00"></div>
<div style="position:absolute;left:1575px;top:482px;width:173px;height:102px;background:#ff6600"></div>
<div style="position:absolute;left:1751px;top:482px;width:161px;height:102px;background:#ff0000"></div>
<div class="l" style="left:938px;top:27px;width:3px;height:664px"></div>
<div class="l" style="left:1053px;top:158px;width:3px;height:533px"></div>
<div class="l" style="left:1240px;top:27px;width:3px;height:664px"></div>
<div class="l" style="left:1386px;top:93px;width:3px;height:598px"></div>
<div class="l" style="left:1572px;top:93px;width:3px;height:598px"></div>
<div class="l" style="left:1748px;top:93px;width:3px;height:598px"></div>
<div class="l" style="left:1912px;top:93px;width:3px;height:598px"></div>
<div class="l" style="left:2042px;top:27px;width:3px;height:664px"></div>
<div class="l" style="left:938px;top:27px;width:1107px;height:3px"></div>
<div class="l" style="left:1240px;top:93px;width:805px;height:3px"></div>
<div class="l" style="left:938px;top:158px;width:1107px;height:3px"></div>
<div class="l" style="left:1053px;top:270px;width:992px;height:3px"></div>
<div class="l" style="left:1053px;top:375px;width:992px;height:3px"></div>
<div class="l" style="left:1053px;top:479px;width:992px;height:3px"></div>
<div class="l" style="left:1053px;top:584px;width:992px;height:3px"></div>
<div class="l" style="left:938px;top:688px;width:1107px;height:3px"></div>
<div class="c b" style="left:946px;top:31px;width:299px;height:128px"><div>MB (µg m<sup>-3</sup>)</div></div>
<div class="c b" style="left:1243px;top:30px;width:799px;height:63px"><div>O<sub>3</sub> MDA8</div></div>
<div class="c b" style="left:1243px;top:96px;width:143px;height:62px"><div>&lt;-40</div></div>
<div class="c b" style="left:1389px;top:96px;width:183px;height:62px"><div>(-40,-10]</div></div>
<div class="c b" style="left:1575px;top:96px;width:173px;height:62px"><div>(-10,10]</div></div>
<div class="c b" style="left:1751px;top:96px;width:161px;height:62px"><div>(10,40]</div></div>
<div class="c b" style="left:1915px;top:96px;width:127px;height:62px"><div>&gt; 40</div></div>
<div class="b" style="position:absolute;left:979px;top:385.6px;font-size:33px;line-height:39px;">O<sub style="font-size:23px;font-weight:normal;position:relative;top:8.5px;vertical-align:0;line-height:0">3</sub><br>HL</div>
<div class="c b" style="left:1056px;top:161px;width:184px;height:109px"><div>&lt;-40</div></div>
<div class="c b" style="left:1056px;top:273px;width:184px;height:102px"><div>(-40,-10]</div></div>
<div class="c b" style="left:1056px;top:378px;width:184px;height:101px"><div>(-10,10]</div></div>
<div class="c b" style="left:1056px;top:482px;width:184px;height:102px"><div>(10,40]</div></div>
<div class="c b" style="left:1056px;top:587px;width:184px;height:101px"><div>&gt;40</div></div>
<div class="c " style="left:1243px;top:161px;width:143px;height:109px"><div>0</div></div>
<div class="c " style="left:1389px;top:161px;width:183px;height:109px"><div>0</div></div>
<div class="c " style="left:1575px;top:161px;width:173px;height:109px"><div>0</div></div>
<div class="c " style="left:1751px;top:161px;width:161px;height:109px"><div>0</div></div>
<div class="c " style="left:1915px;top:161px;width:127px;height:109px"><div>0</div></div>
<div class="c " style="left:1243px;top:273px;width:143px;height:102px"><div>0</div></div>
<div class="c " style="left:1389px;top:273px;width:183px;height:102px"><div>7<br><span style="position:relative;left:3.5px">(2<span style="display:inline-block;width:8px"></span>%)</span></div></div>
<div class="c " style="left:1575px;top:273px;width:173px;height:102px"><div>0</div></div>
<div class="c " style="left:1751px;top:273px;width:161px;height:102px"><div>0</div></div>
<div class="c " style="left:1915px;top:273px;width:127px;height:102px"><div>0</div></div>
<div class="c " style="left:1243px;top:378px;width:143px;height:101px"><div>0</div></div>
<div class="c " style="left:1389px;top:378px;width:183px;height:101px"><div><span class="b">35<br><span style="position:relative;left:3px">(10<span style="display:inline-block;width:5px"></span>%)</span></span></div></div>
<div class="c " style="left:1575px;top:378px;width:173px;height:101px"><div><span class="b">94<br><span style="position:relative;left:3px">(28<span style="display:inline-block;width:5px"></span>%)</span></span></div></div>
<div class="c " style="left:1751px;top:378px;width:161px;height:101px"><div>5<br><span style="position:relative;left:3.5px">(2<span style="display:inline-block;width:8px"></span>%)</span></div></div>
<div class="c " style="left:1915px;top:378px;width:127px;height:101px"><div>0</div></div>
<div class="c " style="left:1243px;top:482px;width:143px;height:102px"><div>0</div></div>
<div class="c " style="left:1389px;top:482px;width:183px;height:102px"><div>3<br><span style="position:relative;left:3.5px">(1<span style="display:inline-block;width:8px"></span>%)</span></div></div>
<div class="c " style="left:1575px;top:482px;width:173px;height:102px"><div><span class="b">65<br><span style="position:relative;left:3px">(19<span style="display:inline-block;width:5px"></span>%)</span></span></div></div>
<div class="c " style="left:1751px;top:482px;width:161px;height:102px"><div><span class="b">122<br><span style="position:relative;left:3px">(36<span style="display:inline-block;width:5px"></span>%)</span></span></div></div>
<div class="c " style="left:1915px;top:482px;width:127px;height:102px"><div>5<br><span style="position:relative;left:3.5px">(2<span style="display:inline-block;width:8px"></span>%)</span></div></div>
<div class="c " style="left:1243px;top:587px;width:143px;height:101px"><div>0</div></div>
<div class="c " style="left:1389px;top:587px;width:183px;height:101px"><div>0</div></div>
<div class="c " style="left:1575px;top:587px;width:173px;height:101px"><div>0</div></div>
<div class="c " style="left:1751px;top:587px;width:161px;height:101px"><div>1<br><span style="position:relative;left:3.5px">(&lt;1<span style="display:inline-block;width:8px"></span>%)</span></div></div>
<div class="c " style="left:1915px;top:587px;width:127px;height:101px"><div>5<br><span style="position:relative;left:3.5px">(2<span style="display:inline-block;width:8px"></span>%)</span></div></div>
<div class="lt" style="left:1399px;top:387px">A</div>
<div class="lt" style="left:1585px;top:386px">B</div>
<div class="lt" style="left:1585px;top:488px">C</div>
<div class="lt" style="left:1758.5px;top:488px">D</div>

<div class="lg" style="left:968.2px;top:753.5px">1 - CIP - D<br>2 - CIP - B</div>
<div class="lg" style="left:1228.8px;top:753.5px">3 - NEIP - B<br>4 - NEIP - B</div>
<div class="lg" style="left:1532.6px;top:753.5px">5 - GV - D<br>6 - GV - D</div>
<div class="lg" style="left:1793.6px;top:753.5px">7 - NWIP - D<br>8 - NWIP - B</div>

</body></html>
